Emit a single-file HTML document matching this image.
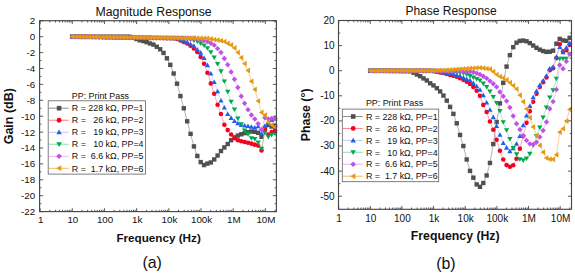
<!DOCTYPE html>
<html><head><meta charset="utf-8"><style>
html,body{margin:0;padding:0;background:#fff;width:575px;height:275px;overflow:hidden}
svg{display:block;font-family:"Liberation Sans", sans-serif;fill:#000}
text{fill:#111}
</style></head><body>
<svg width="575" height="275" viewBox="0 0 575 275">
<path d="M72.28 36.70L75.66 36.70L79.04 36.70L82.42 36.70L85.80 36.70L89.18 36.70L92.56 36.70L95.94 36.70L99.32 36.70L102.70 36.70L106.07 36.70L109.45 36.70L112.83 36.70L116.21 36.70L119.59 36.70L122.97 36.70L126.35 36.70L129.73 36.70L133.11 37.78L136.49 39.03L139.87 40.28L143.25 41.05L146.63 42.16L150.01 43.46L153.39 44.58L156.77 46.77L160.15 49.28L163.53 52.92L166.90 58.31L170.28 64.87L173.66 73.50L177.04 83.69L180.42 96.06L183.80 108.25L187.18 121.30L190.56 133.88L193.94 146.40L197.32 155.96L200.70 162.12L204.08 165.06L207.46 163.57L210.84 162.45L214.22 159.43L217.60 155.53L220.98 151.03L224.36 147.44L227.73 144.01L231.11 140.25L234.49 137.37L237.87 135.51L241.25 134.29L244.63 133.12L248.01 132.17L251.39 131.48L254.77 131.81L258.15 132.81L261.53 136.79L264.91 128.13L268.29 124.95L271.67 126.53L275.05 125.74" fill="none" stroke="#808080" stroke-width="0.6"/>
<g><rect x="70.08" y="34.50" width="4.40" height="4.40" fill="#505050"/><rect x="73.46" y="34.50" width="4.40" height="4.40" fill="#505050"/><rect x="76.84" y="34.50" width="4.40" height="4.40" fill="#505050"/><rect x="80.22" y="34.50" width="4.40" height="4.40" fill="#505050"/><rect x="83.60" y="34.50" width="4.40" height="4.40" fill="#505050"/><rect x="86.98" y="34.50" width="4.40" height="4.40" fill="#505050"/><rect x="90.36" y="34.50" width="4.40" height="4.40" fill="#505050"/><rect x="93.74" y="34.50" width="4.40" height="4.40" fill="#505050"/><rect x="97.12" y="34.50" width="4.40" height="4.40" fill="#505050"/><rect x="100.50" y="34.50" width="4.40" height="4.40" fill="#505050"/><rect x="103.87" y="34.50" width="4.40" height="4.40" fill="#505050"/><rect x="107.25" y="34.50" width="4.40" height="4.40" fill="#505050"/><rect x="110.63" y="34.50" width="4.40" height="4.40" fill="#505050"/><rect x="114.01" y="34.50" width="4.40" height="4.40" fill="#505050"/><rect x="117.39" y="34.50" width="4.40" height="4.40" fill="#505050"/><rect x="120.77" y="34.50" width="4.40" height="4.40" fill="#505050"/><rect x="124.15" y="34.50" width="4.40" height="4.40" fill="#505050"/><rect x="127.53" y="34.50" width="4.40" height="4.40" fill="#505050"/><rect x="130.91" y="35.58" width="4.40" height="4.40" fill="#505050"/><rect x="134.29" y="36.83" width="4.40" height="4.40" fill="#505050"/><rect x="137.67" y="38.08" width="4.40" height="4.40" fill="#505050"/><rect x="141.05" y="38.85" width="4.40" height="4.40" fill="#505050"/><rect x="144.43" y="39.96" width="4.40" height="4.40" fill="#505050"/><rect x="147.81" y="41.26" width="4.40" height="4.40" fill="#505050"/><rect x="151.19" y="42.38" width="4.40" height="4.40" fill="#505050"/><rect x="154.57" y="44.57" width="4.40" height="4.40" fill="#505050"/><rect x="157.95" y="47.08" width="4.40" height="4.40" fill="#505050"/><rect x="161.33" y="50.72" width="4.40" height="4.40" fill="#505050"/><rect x="164.70" y="56.11" width="4.40" height="4.40" fill="#505050"/><rect x="168.08" y="62.67" width="4.40" height="4.40" fill="#505050"/><rect x="171.46" y="71.30" width="4.40" height="4.40" fill="#505050"/><rect x="174.84" y="81.49" width="4.40" height="4.40" fill="#505050"/><rect x="178.22" y="93.86" width="4.40" height="4.40" fill="#505050"/><rect x="181.60" y="106.05" width="4.40" height="4.40" fill="#505050"/><rect x="184.98" y="119.10" width="4.40" height="4.40" fill="#505050"/><rect x="188.36" y="131.68" width="4.40" height="4.40" fill="#505050"/><rect x="191.74" y="144.20" width="4.40" height="4.40" fill="#505050"/><rect x="195.12" y="153.76" width="4.40" height="4.40" fill="#505050"/><rect x="198.50" y="159.92" width="4.40" height="4.40" fill="#505050"/><rect x="201.88" y="162.86" width="4.40" height="4.40" fill="#505050"/><rect x="205.26" y="161.37" width="4.40" height="4.40" fill="#505050"/><rect x="208.64" y="160.25" width="4.40" height="4.40" fill="#505050"/><rect x="212.02" y="157.23" width="4.40" height="4.40" fill="#505050"/><rect x="215.40" y="153.33" width="4.40" height="4.40" fill="#505050"/><rect x="218.78" y="148.83" width="4.40" height="4.40" fill="#505050"/><rect x="222.16" y="145.24" width="4.40" height="4.40" fill="#505050"/><rect x="225.53" y="141.81" width="4.40" height="4.40" fill="#505050"/><rect x="228.91" y="138.05" width="4.40" height="4.40" fill="#505050"/><rect x="232.29" y="135.17" width="4.40" height="4.40" fill="#505050"/><rect x="235.67" y="133.31" width="4.40" height="4.40" fill="#505050"/><rect x="239.05" y="132.09" width="4.40" height="4.40" fill="#505050"/><rect x="242.43" y="130.92" width="4.40" height="4.40" fill="#505050"/><rect x="245.81" y="129.97" width="4.40" height="4.40" fill="#505050"/><rect x="249.19" y="129.28" width="4.40" height="4.40" fill="#505050"/><rect x="252.57" y="129.61" width="4.40" height="4.40" fill="#505050"/><rect x="255.95" y="130.61" width="4.40" height="4.40" fill="#505050"/><rect x="259.33" y="134.59" width="4.40" height="4.40" fill="#505050"/><rect x="262.71" y="125.93" width="4.40" height="4.40" fill="#505050"/><rect x="266.09" y="122.75" width="4.40" height="4.40" fill="#505050"/><rect x="269.47" y="124.33" width="4.40" height="4.40" fill="#505050"/><rect x="272.85" y="123.54" width="4.40" height="4.40" fill="#505050"/></g>
<path d="M72.28 36.70L75.66 36.75L79.04 36.80L82.42 36.86L85.80 36.91L89.18 36.96L92.56 37.01L95.94 37.07L99.32 37.12L102.70 37.17L106.07 37.22L109.45 37.27L112.83 37.33L116.21 37.38L119.59 37.43L122.97 37.48L126.35 37.53L129.73 37.59L133.11 37.64L136.49 37.69L139.87 37.74L143.25 37.80L146.63 37.85L150.01 37.90L153.39 37.95L156.77 38.00L160.15 38.06L163.53 38.11L166.90 38.16L170.28 38.21L173.66 38.27L177.04 39.05L180.42 40.49L183.80 41.93L187.18 43.46L190.56 45.82L193.94 48.47L197.32 52.02L200.70 56.92L204.08 63.79L207.46 72.69L210.84 83.38L214.22 93.77L217.60 104.74L220.98 114.02L224.36 124.68L227.73 130.09L231.11 134.55L234.49 138.22L237.87 140.13L241.25 141.31L244.63 141.97L248.01 142.76L251.39 143.66L254.77 144.63L258.15 145.61L261.53 150.38L264.91 129.64L268.29 134.48L271.67 132.10L275.05 130.19" fill="none" stroke="#ff7080" stroke-width="0.6"/>
<g><circle cx="72.28" cy="36.70" r="2.30" fill="#f5001e"/><circle cx="75.66" cy="36.75" r="2.30" fill="#f5001e"/><circle cx="79.04" cy="36.80" r="2.30" fill="#f5001e"/><circle cx="82.42" cy="36.86" r="2.30" fill="#f5001e"/><circle cx="85.80" cy="36.91" r="2.30" fill="#f5001e"/><circle cx="89.18" cy="36.96" r="2.30" fill="#f5001e"/><circle cx="92.56" cy="37.01" r="2.30" fill="#f5001e"/><circle cx="95.94" cy="37.07" r="2.30" fill="#f5001e"/><circle cx="99.32" cy="37.12" r="2.30" fill="#f5001e"/><circle cx="102.70" cy="37.17" r="2.30" fill="#f5001e"/><circle cx="106.07" cy="37.22" r="2.30" fill="#f5001e"/><circle cx="109.45" cy="37.27" r="2.30" fill="#f5001e"/><circle cx="112.83" cy="37.33" r="2.30" fill="#f5001e"/><circle cx="116.21" cy="37.38" r="2.30" fill="#f5001e"/><circle cx="119.59" cy="37.43" r="2.30" fill="#f5001e"/><circle cx="122.97" cy="37.48" r="2.30" fill="#f5001e"/><circle cx="126.35" cy="37.53" r="2.30" fill="#f5001e"/><circle cx="129.73" cy="37.59" r="2.30" fill="#f5001e"/><circle cx="133.11" cy="37.64" r="2.30" fill="#f5001e"/><circle cx="136.49" cy="37.69" r="2.30" fill="#f5001e"/><circle cx="139.87" cy="37.74" r="2.30" fill="#f5001e"/><circle cx="143.25" cy="37.80" r="2.30" fill="#f5001e"/><circle cx="146.63" cy="37.85" r="2.30" fill="#f5001e"/><circle cx="150.01" cy="37.90" r="2.30" fill="#f5001e"/><circle cx="153.39" cy="37.95" r="2.30" fill="#f5001e"/><circle cx="156.77" cy="38.00" r="2.30" fill="#f5001e"/><circle cx="160.15" cy="38.06" r="2.30" fill="#f5001e"/><circle cx="163.53" cy="38.11" r="2.30" fill="#f5001e"/><circle cx="166.90" cy="38.16" r="2.30" fill="#f5001e"/><circle cx="170.28" cy="38.21" r="2.30" fill="#f5001e"/><circle cx="173.66" cy="38.27" r="2.30" fill="#f5001e"/><circle cx="177.04" cy="39.05" r="2.30" fill="#f5001e"/><circle cx="180.42" cy="40.49" r="2.30" fill="#f5001e"/><circle cx="183.80" cy="41.93" r="2.30" fill="#f5001e"/><circle cx="187.18" cy="43.46" r="2.30" fill="#f5001e"/><circle cx="190.56" cy="45.82" r="2.30" fill="#f5001e"/><circle cx="193.94" cy="48.47" r="2.30" fill="#f5001e"/><circle cx="197.32" cy="52.02" r="2.30" fill="#f5001e"/><circle cx="200.70" cy="56.92" r="2.30" fill="#f5001e"/><circle cx="204.08" cy="63.79" r="2.30" fill="#f5001e"/><circle cx="207.46" cy="72.69" r="2.30" fill="#f5001e"/><circle cx="210.84" cy="83.38" r="2.30" fill="#f5001e"/><circle cx="214.22" cy="93.77" r="2.30" fill="#f5001e"/><circle cx="217.60" cy="104.74" r="2.30" fill="#f5001e"/><circle cx="220.98" cy="114.02" r="2.30" fill="#f5001e"/><circle cx="224.36" cy="124.68" r="2.30" fill="#f5001e"/><circle cx="227.73" cy="130.09" r="2.30" fill="#f5001e"/><circle cx="231.11" cy="134.55" r="2.30" fill="#f5001e"/><circle cx="234.49" cy="138.22" r="2.30" fill="#f5001e"/><circle cx="237.87" cy="140.13" r="2.30" fill="#f5001e"/><circle cx="241.25" cy="141.31" r="2.30" fill="#f5001e"/><circle cx="244.63" cy="141.97" r="2.30" fill="#f5001e"/><circle cx="248.01" cy="142.76" r="2.30" fill="#f5001e"/><circle cx="251.39" cy="143.66" r="2.30" fill="#f5001e"/><circle cx="254.77" cy="144.63" r="2.30" fill="#f5001e"/><circle cx="258.15" cy="145.61" r="2.30" fill="#f5001e"/><circle cx="261.53" cy="150.38" r="2.30" fill="#f5001e"/><circle cx="264.91" cy="129.64" r="2.30" fill="#f5001e"/><circle cx="268.29" cy="134.48" r="2.30" fill="#f5001e"/><circle cx="271.67" cy="132.10" r="2.30" fill="#f5001e"/><circle cx="275.05" cy="130.19" r="2.30" fill="#f5001e"/></g>
<path d="M72.28 36.70L75.66 36.75L79.04 36.80L82.42 36.85L85.80 36.90L89.18 36.95L92.56 37.00L95.94 37.05L99.32 37.10L102.70 37.16L106.07 37.21L109.45 37.26L112.83 37.31L116.21 37.36L119.59 37.41L122.97 37.46L126.35 37.51L129.73 37.56L133.11 37.61L136.49 37.66L139.87 37.71L143.25 37.76L146.63 37.81L150.01 37.86L153.39 37.91L156.77 37.96L160.15 38.02L163.53 38.07L166.90 38.12L170.28 38.17L173.66 38.22L177.04 38.27L180.42 39.25L183.80 40.92L187.18 42.59L190.56 44.26L193.94 45.94L197.32 49.59L200.70 52.72L204.08 58.04L207.46 65.22L210.84 73.62L214.22 82.12L217.60 91.32L220.98 100.60L224.36 107.66L227.73 113.98L231.11 117.96L234.49 121.11L237.87 123.42L241.25 125.02L244.63 125.53L248.01 126.14L251.39 126.86L254.77 127.54L258.15 126.30L261.53 133.53L264.91 125.74L268.29 122.56L271.67 120.17L275.05 118.59" fill="none" stroke="#a8c4ff" stroke-width="0.6"/>
<g><path d="M72.28 34.10L74.88 38.65L69.68 38.65Z" fill="#1f5ff0"/><path d="M75.66 34.15L78.26 38.70L73.06 38.70Z" fill="#1f5ff0"/><path d="M79.04 34.20L81.64 38.75L76.44 38.75Z" fill="#1f5ff0"/><path d="M82.42 34.25L85.02 38.80L79.82 38.80Z" fill="#1f5ff0"/><path d="M85.80 34.30L88.40 38.85L83.20 38.85Z" fill="#1f5ff0"/><path d="M89.18 34.35L91.78 38.90L86.58 38.90Z" fill="#1f5ff0"/><path d="M92.56 34.40L95.16 38.95L89.96 38.95Z" fill="#1f5ff0"/><path d="M95.94 34.45L98.54 39.00L93.34 39.00Z" fill="#1f5ff0"/><path d="M99.32 34.50L101.92 39.05L96.72 39.05Z" fill="#1f5ff0"/><path d="M102.70 34.56L105.30 39.11L100.10 39.11Z" fill="#1f5ff0"/><path d="M106.07 34.61L108.67 39.16L103.47 39.16Z" fill="#1f5ff0"/><path d="M109.45 34.66L112.05 39.21L106.85 39.21Z" fill="#1f5ff0"/><path d="M112.83 34.71L115.43 39.26L110.23 39.26Z" fill="#1f5ff0"/><path d="M116.21 34.76L118.81 39.31L113.61 39.31Z" fill="#1f5ff0"/><path d="M119.59 34.81L122.19 39.36L116.99 39.36Z" fill="#1f5ff0"/><path d="M122.97 34.86L125.57 39.41L120.37 39.41Z" fill="#1f5ff0"/><path d="M126.35 34.91L128.95 39.46L123.75 39.46Z" fill="#1f5ff0"/><path d="M129.73 34.96L132.33 39.51L127.13 39.51Z" fill="#1f5ff0"/><path d="M133.11 35.01L135.71 39.56L130.51 39.56Z" fill="#1f5ff0"/><path d="M136.49 35.06L139.09 39.61L133.89 39.61Z" fill="#1f5ff0"/><path d="M139.87 35.11L142.47 39.66L137.27 39.66Z" fill="#1f5ff0"/><path d="M143.25 35.16L145.85 39.71L140.65 39.71Z" fill="#1f5ff0"/><path d="M146.63 35.21L149.23 39.76L144.03 39.76Z" fill="#1f5ff0"/><path d="M150.01 35.26L152.61 39.81L147.41 39.81Z" fill="#1f5ff0"/><path d="M153.39 35.31L155.99 39.86L150.79 39.86Z" fill="#1f5ff0"/><path d="M156.77 35.36L159.37 39.91L154.17 39.91Z" fill="#1f5ff0"/><path d="M160.15 35.42L162.75 39.97L157.55 39.97Z" fill="#1f5ff0"/><path d="M163.53 35.47L166.13 40.02L160.93 40.02Z" fill="#1f5ff0"/><path d="M166.90 35.52L169.50 40.07L164.30 40.07Z" fill="#1f5ff0"/><path d="M170.28 35.57L172.88 40.12L167.68 40.12Z" fill="#1f5ff0"/><path d="M173.66 35.62L176.26 40.17L171.06 40.17Z" fill="#1f5ff0"/><path d="M177.04 35.67L179.64 40.22L174.44 40.22Z" fill="#1f5ff0"/><path d="M180.42 36.65L183.02 41.20L177.82 41.20Z" fill="#1f5ff0"/><path d="M183.80 38.32L186.40 42.87L181.20 42.87Z" fill="#1f5ff0"/><path d="M187.18 39.99L189.78 44.54L184.58 44.54Z" fill="#1f5ff0"/><path d="M190.56 41.66L193.16 46.21L187.96 46.21Z" fill="#1f5ff0"/><path d="M193.94 43.34L196.54 47.89L191.34 47.89Z" fill="#1f5ff0"/><path d="M197.32 46.99L199.92 51.54L194.72 51.54Z" fill="#1f5ff0"/><path d="M200.70 50.12L203.30 54.67L198.10 54.67Z" fill="#1f5ff0"/><path d="M204.08 55.44L206.68 59.99L201.48 59.99Z" fill="#1f5ff0"/><path d="M207.46 62.62L210.06 67.17L204.86 67.17Z" fill="#1f5ff0"/><path d="M210.84 71.02L213.44 75.57L208.24 75.57Z" fill="#1f5ff0"/><path d="M214.22 79.52L216.82 84.07L211.62 84.07Z" fill="#1f5ff0"/><path d="M217.60 88.72L220.20 93.27L215.00 93.27Z" fill="#1f5ff0"/><path d="M220.98 98.00L223.58 102.55L218.38 102.55Z" fill="#1f5ff0"/><path d="M224.36 105.06L226.96 109.61L221.76 109.61Z" fill="#1f5ff0"/><path d="M227.73 111.38L230.33 115.93L225.13 115.93Z" fill="#1f5ff0"/><path d="M231.11 115.36L233.71 119.91L228.51 119.91Z" fill="#1f5ff0"/><path d="M234.49 118.51L237.09 123.06L231.89 123.06Z" fill="#1f5ff0"/><path d="M237.87 120.82L240.47 125.37L235.27 125.37Z" fill="#1f5ff0"/><path d="M241.25 122.42L243.85 126.97L238.65 126.97Z" fill="#1f5ff0"/><path d="M244.63 122.93L247.23 127.48L242.03 127.48Z" fill="#1f5ff0"/><path d="M248.01 123.54L250.61 128.09L245.41 128.09Z" fill="#1f5ff0"/><path d="M251.39 124.26L253.99 128.81L248.79 128.81Z" fill="#1f5ff0"/><path d="M254.77 124.94L257.37 129.49L252.17 129.49Z" fill="#1f5ff0"/><path d="M258.15 123.70L260.75 128.25L255.55 128.25Z" fill="#1f5ff0"/><path d="M261.53 130.93L264.13 135.48L258.93 135.48Z" fill="#1f5ff0"/><path d="M264.91 123.14L267.51 127.69L262.31 127.69Z" fill="#1f5ff0"/><path d="M268.29 119.96L270.89 124.51L265.69 124.51Z" fill="#1f5ff0"/><path d="M271.67 117.57L274.27 122.12L269.07 122.12Z" fill="#1f5ff0"/><path d="M275.05 115.99L277.65 120.54L272.45 120.54Z" fill="#1f5ff0"/></g>
<path d="M72.28 36.70L75.66 36.75L79.04 36.80L82.42 36.84L85.80 36.89L89.18 36.94L92.56 36.99L95.94 37.03L99.32 37.08L102.70 37.13L106.07 37.18L109.45 37.22L112.83 37.27L116.21 37.32L119.59 37.37L122.97 37.42L126.35 37.46L129.73 37.51L133.11 37.56L136.49 37.61L139.87 37.65L143.25 37.70L146.63 37.75L150.01 37.80L153.39 37.84L156.77 37.89L160.15 37.94L163.53 37.99L166.90 38.04L170.28 38.08L173.66 38.13L177.04 38.18L180.42 38.23L183.80 38.27L187.18 38.85L190.56 39.69L193.94 40.52L197.32 41.36L200.70 43.33L204.08 45.51L207.46 48.23L210.84 52.08L214.22 57.43L217.60 63.87L220.98 71.29L224.36 81.46L227.73 91.77L231.11 101.73L234.49 109.41L237.87 118.45L241.25 124.14L244.63 130.57L248.01 134.24L251.39 138.09L254.77 138.86L258.15 142.43L261.53 148.71L264.91 132.82L268.29 136.79L271.67 134.80L275.05 133.69" fill="none" stroke="#80d8a8" stroke-width="0.6"/>
<g><path d="M72.28 39.30L74.98 34.75L69.58 34.75Z" fill="#00a850"/><path d="M75.66 39.35L78.36 34.80L72.96 34.80Z" fill="#00a850"/><path d="M79.04 39.40L81.74 34.85L76.34 34.85Z" fill="#00a850"/><path d="M82.42 39.44L85.12 34.89L79.72 34.89Z" fill="#00a850"/><path d="M85.80 39.49L88.50 34.94L83.10 34.94Z" fill="#00a850"/><path d="M89.18 39.54L91.88 34.99L86.48 34.99Z" fill="#00a850"/><path d="M92.56 39.59L95.26 35.04L89.86 35.04Z" fill="#00a850"/><path d="M95.94 39.63L98.64 35.08L93.24 35.08Z" fill="#00a850"/><path d="M99.32 39.68L102.02 35.13L96.62 35.13Z" fill="#00a850"/><path d="M102.70 39.73L105.40 35.18L100.00 35.18Z" fill="#00a850"/><path d="M106.07 39.78L108.77 35.23L103.37 35.23Z" fill="#00a850"/><path d="M109.45 39.82L112.15 35.27L106.75 35.27Z" fill="#00a850"/><path d="M112.83 39.87L115.53 35.32L110.13 35.32Z" fill="#00a850"/><path d="M116.21 39.92L118.91 35.37L113.51 35.37Z" fill="#00a850"/><path d="M119.59 39.97L122.29 35.42L116.89 35.42Z" fill="#00a850"/><path d="M122.97 40.02L125.67 35.47L120.27 35.47Z" fill="#00a850"/><path d="M126.35 40.06L129.05 35.51L123.65 35.51Z" fill="#00a850"/><path d="M129.73 40.11L132.43 35.56L127.03 35.56Z" fill="#00a850"/><path d="M133.11 40.16L135.81 35.61L130.41 35.61Z" fill="#00a850"/><path d="M136.49 40.21L139.19 35.66L133.79 35.66Z" fill="#00a850"/><path d="M139.87 40.25L142.57 35.70L137.17 35.70Z" fill="#00a850"/><path d="M143.25 40.30L145.95 35.75L140.55 35.75Z" fill="#00a850"/><path d="M146.63 40.35L149.33 35.80L143.93 35.80Z" fill="#00a850"/><path d="M150.01 40.40L152.71 35.85L147.31 35.85Z" fill="#00a850"/><path d="M153.39 40.44L156.09 35.89L150.69 35.89Z" fill="#00a850"/><path d="M156.77 40.49L159.47 35.94L154.07 35.94Z" fill="#00a850"/><path d="M160.15 40.54L162.85 35.99L157.45 35.99Z" fill="#00a850"/><path d="M163.53 40.59L166.23 36.04L160.83 36.04Z" fill="#00a850"/><path d="M166.90 40.64L169.60 36.09L164.20 36.09Z" fill="#00a850"/><path d="M170.28 40.68L172.98 36.13L167.58 36.13Z" fill="#00a850"/><path d="M173.66 40.73L176.36 36.18L170.96 36.18Z" fill="#00a850"/><path d="M177.04 40.78L179.74 36.23L174.34 36.23Z" fill="#00a850"/><path d="M180.42 40.83L183.12 36.28L177.72 36.28Z" fill="#00a850"/><path d="M183.80 40.87L186.50 36.32L181.10 36.32Z" fill="#00a850"/><path d="M187.18 41.45L189.88 36.90L184.48 36.90Z" fill="#00a850"/><path d="M190.56 42.29L193.26 37.74L187.86 37.74Z" fill="#00a850"/><path d="M193.94 43.12L196.64 38.57L191.24 38.57Z" fill="#00a850"/><path d="M197.32 43.96L200.02 39.41L194.62 39.41Z" fill="#00a850"/><path d="M200.70 45.93L203.40 41.38L198.00 41.38Z" fill="#00a850"/><path d="M204.08 48.11L206.78 43.56L201.38 43.56Z" fill="#00a850"/><path d="M207.46 50.83L210.16 46.28L204.76 46.28Z" fill="#00a850"/><path d="M210.84 54.68L213.54 50.13L208.14 50.13Z" fill="#00a850"/><path d="M214.22 60.03L216.92 55.48L211.52 55.48Z" fill="#00a850"/><path d="M217.60 66.47L220.30 61.92L214.90 61.92Z" fill="#00a850"/><path d="M220.98 73.89L223.68 69.34L218.28 69.34Z" fill="#00a850"/><path d="M224.36 84.06L227.06 79.51L221.66 79.51Z" fill="#00a850"/><path d="M227.73 94.37L230.43 89.82L225.03 89.82Z" fill="#00a850"/><path d="M231.11 104.33L233.81 99.78L228.41 99.78Z" fill="#00a850"/><path d="M234.49 112.01L237.19 107.46L231.79 107.46Z" fill="#00a850"/><path d="M237.87 121.05L240.57 116.50L235.17 116.50Z" fill="#00a850"/><path d="M241.25 126.74L243.95 122.19L238.55 122.19Z" fill="#00a850"/><path d="M244.63 133.17L247.33 128.62L241.93 128.62Z" fill="#00a850"/><path d="M248.01 136.84L250.71 132.29L245.31 132.29Z" fill="#00a850"/><path d="M251.39 140.69L254.09 136.14L248.69 136.14Z" fill="#00a850"/><path d="M254.77 141.46L257.47 136.91L252.07 136.91Z" fill="#00a850"/><path d="M258.15 145.03L260.85 140.48L255.45 140.48Z" fill="#00a850"/><path d="M261.53 151.31L264.23 146.76L258.83 146.76Z" fill="#00a850"/><path d="M264.91 135.42L267.61 130.87L262.21 130.87Z" fill="#00a850"/><path d="M268.29 139.39L270.99 134.84L265.59 134.84Z" fill="#00a850"/><path d="M271.67 137.40L274.37 132.85L268.97 132.85Z" fill="#00a850"/><path d="M275.05 136.29L277.75 131.74L272.35 131.74Z" fill="#00a850"/></g>
<path d="M72.28 36.70L75.66 36.74L79.04 36.79L82.42 36.83L85.80 36.88L89.18 36.92L92.56 36.96L95.94 37.01L99.32 37.05L102.70 37.10L106.07 37.14L109.45 37.18L112.83 37.23L116.21 37.27L119.59 37.32L122.97 37.36L126.35 37.40L129.73 37.45L133.11 37.49L136.49 37.53L139.87 37.58L143.25 37.62L146.63 37.67L150.01 37.71L153.39 37.75L156.77 37.80L160.15 37.84L163.53 37.89L166.90 37.93L170.28 37.97L173.66 38.02L177.04 38.06L180.42 38.11L183.80 38.15L187.18 38.19L190.56 38.24L193.94 38.28L197.32 38.97L200.70 39.81L204.08 40.64L207.46 41.48L210.84 43.23L214.22 45.16L217.60 48.62L220.98 52.42L224.36 58.45L227.73 64.69L231.11 72.00L234.49 79.24L237.87 87.56L241.25 96.21L244.63 103.34L248.01 109.66L251.39 114.95L254.77 119.01L258.15 123.67L261.53 129.63L264.91 117.79L268.29 119.06L271.67 118.43L275.05 118.59" fill="none" stroke="#e4a8f8" stroke-width="0.6"/>
<g><path d="M72.28 34.00L74.98 36.70L72.28 39.40L69.58 36.70Z" fill="#c050e8"/><path d="M75.66 34.04L78.36 36.74L75.66 39.44L72.96 36.74Z" fill="#c050e8"/><path d="M79.04 34.09L81.74 36.79L79.04 39.49L76.34 36.79Z" fill="#c050e8"/><path d="M82.42 34.13L85.12 36.83L82.42 39.53L79.72 36.83Z" fill="#c050e8"/><path d="M85.80 34.18L88.50 36.88L85.80 39.58L83.10 36.88Z" fill="#c050e8"/><path d="M89.18 34.22L91.88 36.92L89.18 39.62L86.48 36.92Z" fill="#c050e8"/><path d="M92.56 34.26L95.26 36.96L92.56 39.66L89.86 36.96Z" fill="#c050e8"/><path d="M95.94 34.31L98.64 37.01L95.94 39.71L93.24 37.01Z" fill="#c050e8"/><path d="M99.32 34.35L102.02 37.05L99.32 39.75L96.62 37.05Z" fill="#c050e8"/><path d="M102.70 34.40L105.40 37.10L102.70 39.80L100.00 37.10Z" fill="#c050e8"/><path d="M106.07 34.44L108.77 37.14L106.07 39.84L103.37 37.14Z" fill="#c050e8"/><path d="M109.45 34.48L112.15 37.18L109.45 39.88L106.75 37.18Z" fill="#c050e8"/><path d="M112.83 34.53L115.53 37.23L112.83 39.93L110.13 37.23Z" fill="#c050e8"/><path d="M116.21 34.57L118.91 37.27L116.21 39.97L113.51 37.27Z" fill="#c050e8"/><path d="M119.59 34.62L122.29 37.32L119.59 40.02L116.89 37.32Z" fill="#c050e8"/><path d="M122.97 34.66L125.67 37.36L122.97 40.06L120.27 37.36Z" fill="#c050e8"/><path d="M126.35 34.70L129.05 37.40L126.35 40.10L123.65 37.40Z" fill="#c050e8"/><path d="M129.73 34.75L132.43 37.45L129.73 40.15L127.03 37.45Z" fill="#c050e8"/><path d="M133.11 34.79L135.81 37.49L133.11 40.19L130.41 37.49Z" fill="#c050e8"/><path d="M136.49 34.83L139.19 37.53L136.49 40.23L133.79 37.53Z" fill="#c050e8"/><path d="M139.87 34.88L142.57 37.58L139.87 40.28L137.17 37.58Z" fill="#c050e8"/><path d="M143.25 34.92L145.95 37.62L143.25 40.32L140.55 37.62Z" fill="#c050e8"/><path d="M146.63 34.97L149.33 37.67L146.63 40.37L143.93 37.67Z" fill="#c050e8"/><path d="M150.01 35.01L152.71 37.71L150.01 40.41L147.31 37.71Z" fill="#c050e8"/><path d="M153.39 35.05L156.09 37.75L153.39 40.45L150.69 37.75Z" fill="#c050e8"/><path d="M156.77 35.10L159.47 37.80L156.77 40.50L154.07 37.80Z" fill="#c050e8"/><path d="M160.15 35.14L162.85 37.84L160.15 40.54L157.45 37.84Z" fill="#c050e8"/><path d="M163.53 35.19L166.23 37.89L163.53 40.59L160.83 37.89Z" fill="#c050e8"/><path d="M166.90 35.23L169.60 37.93L166.90 40.63L164.20 37.93Z" fill="#c050e8"/><path d="M170.28 35.27L172.98 37.97L170.28 40.67L167.58 37.97Z" fill="#c050e8"/><path d="M173.66 35.32L176.36 38.02L173.66 40.72L170.96 38.02Z" fill="#c050e8"/><path d="M177.04 35.36L179.74 38.06L177.04 40.76L174.34 38.06Z" fill="#c050e8"/><path d="M180.42 35.41L183.12 38.11L180.42 40.81L177.72 38.11Z" fill="#c050e8"/><path d="M183.80 35.45L186.50 38.15L183.80 40.85L181.10 38.15Z" fill="#c050e8"/><path d="M187.18 35.49L189.88 38.19L187.18 40.89L184.48 38.19Z" fill="#c050e8"/><path d="M190.56 35.54L193.26 38.24L190.56 40.94L187.86 38.24Z" fill="#c050e8"/><path d="M193.94 35.58L196.64 38.28L193.94 40.98L191.24 38.28Z" fill="#c050e8"/><path d="M197.32 36.27L200.02 38.97L197.32 41.67L194.62 38.97Z" fill="#c050e8"/><path d="M200.70 37.11L203.40 39.81L200.70 42.51L198.00 39.81Z" fill="#c050e8"/><path d="M204.08 37.94L206.78 40.64L204.08 43.34L201.38 40.64Z" fill="#c050e8"/><path d="M207.46 38.78L210.16 41.48L207.46 44.18L204.76 41.48Z" fill="#c050e8"/><path d="M210.84 40.53L213.54 43.23L210.84 45.93L208.14 43.23Z" fill="#c050e8"/><path d="M214.22 42.46L216.92 45.16L214.22 47.86L211.52 45.16Z" fill="#c050e8"/><path d="M217.60 45.92L220.30 48.62L217.60 51.32L214.90 48.62Z" fill="#c050e8"/><path d="M220.98 49.72L223.68 52.42L220.98 55.12L218.28 52.42Z" fill="#c050e8"/><path d="M224.36 55.75L227.06 58.45L224.36 61.15L221.66 58.45Z" fill="#c050e8"/><path d="M227.73 61.99L230.43 64.69L227.73 67.39L225.03 64.69Z" fill="#c050e8"/><path d="M231.11 69.30L233.81 72.00L231.11 74.70L228.41 72.00Z" fill="#c050e8"/><path d="M234.49 76.54L237.19 79.24L234.49 81.94L231.79 79.24Z" fill="#c050e8"/><path d="M237.87 84.86L240.57 87.56L237.87 90.26L235.17 87.56Z" fill="#c050e8"/><path d="M241.25 93.51L243.95 96.21L241.25 98.91L238.55 96.21Z" fill="#c050e8"/><path d="M244.63 100.64L247.33 103.34L244.63 106.04L241.93 103.34Z" fill="#c050e8"/><path d="M248.01 106.96L250.71 109.66L248.01 112.36L245.31 109.66Z" fill="#c050e8"/><path d="M251.39 112.25L254.09 114.95L251.39 117.65L248.69 114.95Z" fill="#c050e8"/><path d="M254.77 116.31L257.47 119.01L254.77 121.71L252.07 119.01Z" fill="#c050e8"/><path d="M258.15 120.97L260.85 123.67L258.15 126.37L255.45 123.67Z" fill="#c050e8"/><path d="M261.53 126.93L264.23 129.63L261.53 132.33L258.83 129.63Z" fill="#c050e8"/><path d="M264.91 115.09L267.61 117.79L264.91 120.49L262.21 117.79Z" fill="#c050e8"/><path d="M268.29 116.36L270.99 119.06L268.29 121.76L265.59 119.06Z" fill="#c050e8"/><path d="M271.67 115.73L274.37 118.43L271.67 121.13L268.97 118.43Z" fill="#c050e8"/><path d="M275.05 115.89L277.75 118.59L275.05 121.29L272.35 118.59Z" fill="#c050e8"/></g>
<path d="M72.28 36.70L75.66 36.74L79.04 36.78L82.42 36.82L85.80 36.86L89.18 36.90L92.56 36.94L95.94 36.98L99.32 37.02L102.70 37.06L106.07 37.10L109.45 37.14L112.83 37.18L116.21 37.22L119.59 37.26L122.97 37.30L126.35 37.34L129.73 37.38L133.11 37.42L136.49 37.46L139.87 37.50L143.25 37.53L146.63 37.57L150.01 37.61L153.39 37.65L156.77 37.69L160.15 37.73L163.53 37.77L166.90 37.81L170.28 37.85L173.66 37.89L177.04 37.93L180.42 37.97L183.80 38.01L187.18 38.05L190.56 38.09L193.94 38.13L197.32 38.17L200.70 38.21L204.08 38.25L207.46 38.29L210.84 38.90L214.22 39.51L217.60 40.11L220.98 40.72L224.36 41.50L227.73 43.29L231.11 44.93L234.49 47.92L237.87 52.41L241.25 57.66L244.63 63.65L248.01 70.42L251.39 81.37L254.77 89.48L258.15 101.01L261.53 112.46L264.91 115.09L268.29 122.32L271.67 124.95L275.05 126.93" fill="none" stroke="#eeb050" stroke-width="0.6"/>
<g><path d="M69.58 36.70L74.31 33.85L74.31 39.55Z" fill="#e69a12"/><path d="M72.96 36.74L77.68 33.89L77.68 39.59Z" fill="#e69a12"/><path d="M76.34 36.78L81.06 33.93L81.06 39.63Z" fill="#e69a12"/><path d="M79.72 36.82L84.44 33.97L84.44 39.67Z" fill="#e69a12"/><path d="M83.10 36.86L87.82 34.01L87.82 39.71Z" fill="#e69a12"/><path d="M86.48 36.90L91.20 34.05L91.20 39.75Z" fill="#e69a12"/><path d="M89.86 36.94L94.58 34.09L94.58 39.79Z" fill="#e69a12"/><path d="M93.24 36.98L97.96 34.13L97.96 39.83Z" fill="#e69a12"/><path d="M96.62 37.02L101.34 34.17L101.34 39.87Z" fill="#e69a12"/><path d="M100.00 37.06L104.72 34.21L104.72 39.91Z" fill="#e69a12"/><path d="M103.37 37.10L108.10 34.25L108.10 39.95Z" fill="#e69a12"/><path d="M106.75 37.14L111.48 34.29L111.48 39.99Z" fill="#e69a12"/><path d="M110.13 37.18L114.86 34.33L114.86 40.03Z" fill="#e69a12"/><path d="M113.51 37.22L118.24 34.37L118.24 40.07Z" fill="#e69a12"/><path d="M116.89 37.26L121.62 34.41L121.62 40.11Z" fill="#e69a12"/><path d="M120.27 37.30L125.00 34.45L125.00 40.15Z" fill="#e69a12"/><path d="M123.65 37.34L128.38 34.49L128.38 40.19Z" fill="#e69a12"/><path d="M127.03 37.38L131.76 34.53L131.76 40.23Z" fill="#e69a12"/><path d="M130.41 37.42L135.14 34.57L135.14 40.27Z" fill="#e69a12"/><path d="M133.79 37.46L138.51 34.61L138.51 40.31Z" fill="#e69a12"/><path d="M137.17 37.50L141.89 34.65L141.89 40.35Z" fill="#e69a12"/><path d="M140.55 37.53L145.27 34.68L145.27 40.38Z" fill="#e69a12"/><path d="M143.93 37.57L148.65 34.72L148.65 40.42Z" fill="#e69a12"/><path d="M147.31 37.61L152.03 34.76L152.03 40.46Z" fill="#e69a12"/><path d="M150.69 37.65L155.41 34.80L155.41 40.50Z" fill="#e69a12"/><path d="M154.07 37.69L158.79 34.84L158.79 40.54Z" fill="#e69a12"/><path d="M157.45 37.73L162.17 34.88L162.17 40.58Z" fill="#e69a12"/><path d="M160.83 37.77L165.55 34.92L165.55 40.62Z" fill="#e69a12"/><path d="M164.20 37.81L168.93 34.96L168.93 40.66Z" fill="#e69a12"/><path d="M167.58 37.85L172.31 35.00L172.31 40.70Z" fill="#e69a12"/><path d="M170.96 37.89L175.69 35.04L175.69 40.74Z" fill="#e69a12"/><path d="M174.34 37.93L179.07 35.08L179.07 40.78Z" fill="#e69a12"/><path d="M177.72 37.97L182.45 35.12L182.45 40.82Z" fill="#e69a12"/><path d="M181.10 38.01L185.83 35.16L185.83 40.86Z" fill="#e69a12"/><path d="M184.48 38.05L189.21 35.20L189.21 40.90Z" fill="#e69a12"/><path d="M187.86 38.09L192.59 35.24L192.59 40.94Z" fill="#e69a12"/><path d="M191.24 38.13L195.97 35.28L195.97 40.98Z" fill="#e69a12"/><path d="M194.62 38.17L199.34 35.32L199.34 41.02Z" fill="#e69a12"/><path d="M198.00 38.21L202.72 35.36L202.72 41.06Z" fill="#e69a12"/><path d="M201.38 38.25L206.10 35.40L206.10 41.10Z" fill="#e69a12"/><path d="M204.76 38.29L209.48 35.44L209.48 41.14Z" fill="#e69a12"/><path d="M208.14 38.90L212.86 36.05L212.86 41.75Z" fill="#e69a12"/><path d="M211.52 39.51L216.24 36.66L216.24 42.36Z" fill="#e69a12"/><path d="M214.90 40.11L219.62 37.26L219.62 42.96Z" fill="#e69a12"/><path d="M218.28 40.72L223.00 37.87L223.00 43.57Z" fill="#e69a12"/><path d="M221.66 41.50L226.38 38.65L226.38 44.35Z" fill="#e69a12"/><path d="M225.03 43.29L229.76 40.44L229.76 46.14Z" fill="#e69a12"/><path d="M228.41 44.93L233.14 42.08L233.14 47.78Z" fill="#e69a12"/><path d="M231.79 47.92L236.52 45.07L236.52 50.77Z" fill="#e69a12"/><path d="M235.17 52.41L239.90 49.56L239.90 55.26Z" fill="#e69a12"/><path d="M238.55 57.66L243.28 54.81L243.28 60.51Z" fill="#e69a12"/><path d="M241.93 63.65L246.66 60.80L246.66 66.50Z" fill="#e69a12"/><path d="M245.31 70.42L250.04 67.57L250.04 73.27Z" fill="#e69a12"/><path d="M248.69 81.37L253.42 78.52L253.42 84.22Z" fill="#e69a12"/><path d="M252.07 89.48L256.80 86.63L256.80 92.33Z" fill="#e69a12"/><path d="M255.45 101.01L260.17 98.16L260.17 103.86Z" fill="#e69a12"/><path d="M258.83 112.46L263.55 109.61L263.55 115.31Z" fill="#e69a12"/><path d="M262.21 115.09L266.93 112.24L266.93 117.94Z" fill="#e69a12"/><path d="M265.59 122.32L270.31 119.47L270.31 125.17Z" fill="#e69a12"/><path d="M268.97 124.95L273.69 122.10L273.69 127.80Z" fill="#e69a12"/><path d="M272.35 126.93L277.07 124.08L277.07 129.78Z" fill="#e69a12"/></g>
<rect x="39.6" y="20.7" width="236.79999999999998" height="190.9" fill="none" stroke="#484848" stroke-width="1.15"/>
<path d="M40.10 211.6V208.20M40.10 20.7V24.10M49.79 211.6V209.80M49.79 20.7V22.50M55.45 211.6V209.80M55.45 20.7V22.50M59.47 211.6V209.80M59.47 20.7V22.50M62.59 211.6V209.80M62.59 20.7V22.50M65.14 211.6V209.80M65.14 20.7V22.50M67.30 211.6V209.80M67.30 20.7V22.50M69.16 211.6V209.80M69.16 20.7V22.50M70.81 211.6V209.80M70.81 20.7V22.50M72.28 211.6V208.20M72.28 20.7V24.10M81.97 211.6V209.80M81.97 20.7V22.50M87.63 211.6V209.80M87.63 20.7V22.50M91.65 211.6V209.80M91.65 20.7V22.50M94.77 211.6V209.80M94.77 20.7V22.50M97.32 211.6V209.80M97.32 20.7V22.50M99.48 211.6V209.80M99.48 20.7V22.50M101.34 211.6V209.80M101.34 20.7V22.50M102.99 211.6V209.80M102.99 20.7V22.50M104.46 211.6V208.20M104.46 20.7V24.10M114.15 211.6V209.80M114.15 20.7V22.50M119.81 211.6V209.80M119.81 20.7V22.50M123.83 211.6V209.80M123.83 20.7V22.50M126.95 211.6V209.80M126.95 20.7V22.50M129.50 211.6V209.80M129.50 20.7V22.50M131.66 211.6V209.80M131.66 20.7V22.50M133.52 211.6V209.80M133.52 20.7V22.50M135.17 211.6V209.80M135.17 20.7V22.50M136.64 211.6V208.20M136.64 20.7V24.10M146.33 211.6V209.80M146.33 20.7V22.50M151.99 211.6V209.80M151.99 20.7V22.50M156.01 211.6V209.80M156.01 20.7V22.50M159.13 211.6V209.80M159.13 20.7V22.50M161.68 211.6V209.80M161.68 20.7V22.50M163.84 211.6V209.80M163.84 20.7V22.50M165.70 211.6V209.80M165.70 20.7V22.50M167.35 211.6V209.80M167.35 20.7V22.50M168.82 211.6V208.20M168.82 20.7V24.10M178.51 211.6V209.80M178.51 20.7V22.50M184.17 211.6V209.80M184.17 20.7V22.50M188.19 211.6V209.80M188.19 20.7V22.50M191.31 211.6V209.80M191.31 20.7V22.50M193.86 211.6V209.80M193.86 20.7V22.50M196.02 211.6V209.80M196.02 20.7V22.50M197.88 211.6V209.80M197.88 20.7V22.50M199.53 211.6V209.80M199.53 20.7V22.50M201.00 211.6V208.20M201.00 20.7V24.10M210.69 211.6V209.80M210.69 20.7V22.50M216.35 211.6V209.80M216.35 20.7V22.50M220.37 211.6V209.80M220.37 20.7V22.50M223.49 211.6V209.80M223.49 20.7V22.50M226.04 211.6V209.80M226.04 20.7V22.50M228.20 211.6V209.80M228.20 20.7V22.50M230.06 211.6V209.80M230.06 20.7V22.50M231.71 211.6V209.80M231.71 20.7V22.50M233.18 211.6V208.20M233.18 20.7V24.10M242.87 211.6V209.80M242.87 20.7V22.50M248.53 211.6V209.80M248.53 20.7V22.50M252.55 211.6V209.80M252.55 20.7V22.50M255.67 211.6V209.80M255.67 20.7V22.50M258.22 211.6V209.80M258.22 20.7V22.50M260.38 211.6V209.80M260.38 20.7V22.50M262.24 211.6V209.80M262.24 20.7V22.50M263.89 211.6V209.80M263.89 20.7V22.50M265.36 211.6V208.20M265.36 20.7V24.10M275.05 211.6V209.80M275.05 20.7V22.50M39.6 20.80H43.20M276.4 20.80H272.80M39.6 36.70H43.20M276.4 36.70H272.80M39.6 52.60H43.20M276.4 52.60H272.80M39.6 68.50H43.20M276.4 68.50H272.80M39.6 84.40H43.20M276.4 84.40H272.80M39.6 100.30H43.20M276.4 100.30H272.80M39.6 116.20H43.20M276.4 116.20H272.80M39.6 132.10H43.20M276.4 132.10H272.80M39.6 148.00H43.20M276.4 148.00H272.80M39.6 163.90H43.20M276.4 163.90H272.80M39.6 179.80H43.20M276.4 179.80H272.80M39.6 195.70H43.20M276.4 195.70H272.80M39.6 211.60H43.20M276.4 211.60H272.80M39.6 203.65H41.40M276.4 203.65H274.60M39.6 187.75H41.40M276.4 187.75H274.60M39.6 171.85H41.40M276.4 171.85H274.60M39.6 155.95H41.40M276.4 155.95H274.60M39.6 140.05H41.40M276.4 140.05H274.60M39.6 124.15H41.40M276.4 124.15H274.60M39.6 108.25H41.40M276.4 108.25H274.60M39.6 92.35H41.40M276.4 92.35H274.60M39.6 76.45H41.40M276.4 76.45H274.60M39.6 60.55H41.40M276.4 60.55H274.60M39.6 44.65H41.40M276.4 44.65H274.60M39.6 28.75H41.40M276.4 28.75H274.60" stroke="#484848" stroke-width="0.9" fill="none"/>
<text x="35.20" y="24.20" font-size="9.8" text-anchor="end" font-weight="normal" >2</text>
<text x="35.20" y="40.10" font-size="9.8" text-anchor="end" font-weight="normal" >0</text>
<text x="35.20" y="56.00" font-size="9.8" text-anchor="end" font-weight="normal" >-2</text>
<text x="35.20" y="71.90" font-size="9.8" text-anchor="end" font-weight="normal" >-4</text>
<text x="35.20" y="87.80" font-size="9.8" text-anchor="end" font-weight="normal" >-6</text>
<text x="35.20" y="103.70" font-size="9.8" text-anchor="end" font-weight="normal" >-8</text>
<text x="35.20" y="119.60" font-size="9.8" text-anchor="end" font-weight="normal" >-10</text>
<text x="35.20" y="135.50" font-size="9.8" text-anchor="end" font-weight="normal" >-12</text>
<text x="35.20" y="151.40" font-size="9.8" text-anchor="end" font-weight="normal" >-14</text>
<text x="35.20" y="167.30" font-size="9.8" text-anchor="end" font-weight="normal" >-16</text>
<text x="35.20" y="183.20" font-size="9.8" text-anchor="end" font-weight="normal" >-18</text>
<text x="35.20" y="199.10" font-size="9.8" text-anchor="end" font-weight="normal" >-20</text>
<text x="35.20" y="215.00" font-size="9.8" text-anchor="end" font-weight="normal" >-22</text>
<text x="40.70" y="223.40" font-size="9.8" text-anchor="middle" font-weight="normal" >1</text>
<text x="72.88" y="223.40" font-size="9.8" text-anchor="middle" font-weight="normal" >10</text>
<text x="105.06" y="223.40" font-size="9.8" text-anchor="middle" font-weight="normal" >100</text>
<text x="137.24" y="223.40" font-size="9.8" text-anchor="middle" font-weight="normal" >1k</text>
<text x="169.42" y="223.40" font-size="9.8" text-anchor="middle" font-weight="normal" >10k</text>
<text x="201.60" y="223.40" font-size="9.8" text-anchor="middle" font-weight="normal" >100k</text>
<text x="233.78" y="223.40" font-size="9.8" text-anchor="middle" font-weight="normal" >1M</text>
<text x="265.96" y="223.40" font-size="9.8" text-anchor="middle" font-weight="normal" >10M</text>
<text x="153.60" y="15.50" font-size="12.3" text-anchor="middle" font-weight="normal" >Magnitude Response</text>
<text x="158.60" y="241.90" font-size="11.7" text-anchor="middle" font-weight="bold" >Frequency (Hz)</text>
<text x="152.20" y="268.20" font-size="15.9" text-anchor="middle" font-weight="normal" >(a)</text>
<text transform="translate(13.2 116.2) rotate(-90)" font-size="12.5" font-weight="bold" text-anchor="middle">Gain (dB)</text>
<text x="71.80" y="98.60" font-size="8.9" text-anchor="start" font-weight="normal" >PP: Print Pass</text>
<rect x="48.2" y="100.8" width="97.3" height="73.3" fill="#fff" stroke="#606060" stroke-width="0.8"/>
<path d="M48.7 108.20H68.7" stroke="#808080" stroke-width="0.9"/>
<rect x="56.79" y="105.89" width="4.62" height="4.62" fill="#505050"/>
<text x="71.80" y="111.40" font-size="8.9" text-anchor="start" font-weight="normal" xml:space="preserve">R = 228 kΩ, PP=1</text>
<path d="M48.7 120.22H68.7" stroke="#ff7080" stroke-width="0.9"/>
<circle cx="59.10" cy="120.22" r="2.42" fill="#f5001e"/>
<text x="71.80" y="123.42" font-size="8.9" text-anchor="start" font-weight="normal" xml:space="preserve">R =   26 kΩ, PP=2</text>
<path d="M48.7 132.24H68.7" stroke="#a8c4ff" stroke-width="0.9"/>
<path d="M59.10 129.51L61.83 134.29L56.37 134.29Z" fill="#1f5ff0"/>
<text x="71.80" y="135.44" font-size="8.9" text-anchor="start" font-weight="normal" xml:space="preserve">R =   19 kΩ, PP=3</text>
<path d="M48.7 144.26H68.7" stroke="#80d8a8" stroke-width="0.9"/>
<path d="M59.10 146.99L61.94 142.21L56.27 142.21Z" fill="#00a850"/>
<text x="71.80" y="147.46" font-size="8.9" text-anchor="start" font-weight="normal" xml:space="preserve">R =   10 kΩ, PP=4</text>
<path d="M48.7 156.28H68.7" stroke="#e4a8f8" stroke-width="0.9"/>
<path d="M59.10 153.44L61.94 156.28L59.10 159.12L56.27 156.28Z" fill="#c050e8"/>
<text x="71.80" y="159.48" font-size="8.9" text-anchor="start" font-weight="normal" xml:space="preserve">R =  6.6 kΩ, PP=5</text>
<path d="M48.7 168.30H68.7" stroke="#eeb050" stroke-width="0.9"/>
<path d="M56.27 168.30L61.23 165.31L61.23 171.29Z" fill="#e69a12"/>
<text x="71.80" y="171.50" font-size="8.9" text-anchor="start" font-weight="normal" xml:space="preserve">R =  1.7 kΩ, PP=6</text>
<path d="M370.34 70.70L373.66 70.74L376.99 70.78L380.31 70.83L383.63 70.87L386.95 70.91L390.28 70.95L393.60 70.99L396.92 71.03L400.24 71.08L403.57 71.12L406.89 71.16L410.21 71.20L413.54 72.71L416.86 74.47L420.18 76.20L423.50 78.41L426.83 80.50L430.15 83.26L433.47 85.42L436.79 88.21L440.12 91.42L443.44 95.57L446.76 100.64L450.09 106.87L453.41 113.90L456.73 123.28L460.05 134.95L463.38 146.00L466.70 159.47L470.02 170.88L473.35 177.69L476.67 184.42L479.99 186.81L483.31 183.01L486.64 175.45L489.96 162.95L493.28 144.05L496.60 122.04L499.93 103.37L503.25 82.84L506.57 66.58L509.90 55.13L513.22 47.17L516.54 42.72L519.86 40.93L523.19 40.58L526.51 41.27L529.83 43.07L533.15 45.50L536.48 47.81L539.80 49.64L543.12 51.05L546.45 51.88L549.77 51.76L553.09 50.66L556.41 43.71L559.74 38.87L563.06 40.43L566.38 40.85L569.70 37.82" fill="none" stroke="#808080" stroke-width="0.6"/>
<g><rect x="368.14" y="68.50" width="4.40" height="4.40" fill="#505050"/><rect x="371.46" y="68.54" width="4.40" height="4.40" fill="#505050"/><rect x="374.79" y="68.58" width="4.40" height="4.40" fill="#505050"/><rect x="378.11" y="68.63" width="4.40" height="4.40" fill="#505050"/><rect x="381.43" y="68.67" width="4.40" height="4.40" fill="#505050"/><rect x="384.75" y="68.71" width="4.40" height="4.40" fill="#505050"/><rect x="388.08" y="68.75" width="4.40" height="4.40" fill="#505050"/><rect x="391.40" y="68.79" width="4.40" height="4.40" fill="#505050"/><rect x="394.72" y="68.83" width="4.40" height="4.40" fill="#505050"/><rect x="398.04" y="68.88" width="4.40" height="4.40" fill="#505050"/><rect x="401.37" y="68.92" width="4.40" height="4.40" fill="#505050"/><rect x="404.69" y="68.96" width="4.40" height="4.40" fill="#505050"/><rect x="408.01" y="69.00" width="4.40" height="4.40" fill="#505050"/><rect x="411.34" y="70.51" width="4.40" height="4.40" fill="#505050"/><rect x="414.66" y="72.27" width="4.40" height="4.40" fill="#505050"/><rect x="417.98" y="74.00" width="4.40" height="4.40" fill="#505050"/><rect x="421.30" y="76.21" width="4.40" height="4.40" fill="#505050"/><rect x="424.63" y="78.30" width="4.40" height="4.40" fill="#505050"/><rect x="427.95" y="81.06" width="4.40" height="4.40" fill="#505050"/><rect x="431.27" y="83.22" width="4.40" height="4.40" fill="#505050"/><rect x="434.59" y="86.01" width="4.40" height="4.40" fill="#505050"/><rect x="437.92" y="89.22" width="4.40" height="4.40" fill="#505050"/><rect x="441.24" y="93.37" width="4.40" height="4.40" fill="#505050"/><rect x="444.56" y="98.44" width="4.40" height="4.40" fill="#505050"/><rect x="447.89" y="104.67" width="4.40" height="4.40" fill="#505050"/><rect x="451.21" y="111.70" width="4.40" height="4.40" fill="#505050"/><rect x="454.53" y="121.08" width="4.40" height="4.40" fill="#505050"/><rect x="457.85" y="132.75" width="4.40" height="4.40" fill="#505050"/><rect x="461.18" y="143.80" width="4.40" height="4.40" fill="#505050"/><rect x="464.50" y="157.27" width="4.40" height="4.40" fill="#505050"/><rect x="467.82" y="168.68" width="4.40" height="4.40" fill="#505050"/><rect x="471.15" y="175.49" width="4.40" height="4.40" fill="#505050"/><rect x="474.47" y="182.22" width="4.40" height="4.40" fill="#505050"/><rect x="477.79" y="184.61" width="4.40" height="4.40" fill="#505050"/><rect x="481.11" y="180.81" width="4.40" height="4.40" fill="#505050"/><rect x="484.44" y="173.25" width="4.40" height="4.40" fill="#505050"/><rect x="487.76" y="160.75" width="4.40" height="4.40" fill="#505050"/><rect x="491.08" y="141.85" width="4.40" height="4.40" fill="#505050"/><rect x="494.40" y="119.84" width="4.40" height="4.40" fill="#505050"/><rect x="497.73" y="101.17" width="4.40" height="4.40" fill="#505050"/><rect x="501.05" y="80.64" width="4.40" height="4.40" fill="#505050"/><rect x="504.37" y="64.38" width="4.40" height="4.40" fill="#505050"/><rect x="507.70" y="52.93" width="4.40" height="4.40" fill="#505050"/><rect x="511.02" y="44.97" width="4.40" height="4.40" fill="#505050"/><rect x="514.34" y="40.52" width="4.40" height="4.40" fill="#505050"/><rect x="517.66" y="38.73" width="4.40" height="4.40" fill="#505050"/><rect x="520.99" y="38.38" width="4.40" height="4.40" fill="#505050"/><rect x="524.31" y="39.07" width="4.40" height="4.40" fill="#505050"/><rect x="527.63" y="40.87" width="4.40" height="4.40" fill="#505050"/><rect x="530.95" y="43.30" width="4.40" height="4.40" fill="#505050"/><rect x="534.28" y="45.61" width="4.40" height="4.40" fill="#505050"/><rect x="537.60" y="47.44" width="4.40" height="4.40" fill="#505050"/><rect x="540.92" y="48.85" width="4.40" height="4.40" fill="#505050"/><rect x="544.25" y="49.67" width="4.40" height="4.40" fill="#505050"/><rect x="547.57" y="49.56" width="4.40" height="4.40" fill="#505050"/><rect x="550.89" y="48.46" width="4.40" height="4.40" fill="#505050"/><rect x="554.21" y="41.51" width="4.40" height="4.40" fill="#505050"/><rect x="557.54" y="36.67" width="4.40" height="4.40" fill="#505050"/><rect x="560.86" y="38.23" width="4.40" height="4.40" fill="#505050"/><rect x="564.18" y="38.65" width="4.40" height="4.40" fill="#505050"/><rect x="567.50" y="35.62" width="4.40" height="4.40" fill="#505050"/></g>
<path d="M370.34 70.70L373.66 70.70L376.99 70.70L380.31 70.70L383.63 70.70L386.95 70.70L390.28 70.70L393.60 70.70L396.92 70.70L400.24 70.70L403.57 70.70L406.89 70.70L410.21 70.70L413.54 70.70L416.86 70.70L420.18 70.70L423.50 70.70L426.83 70.70L430.15 70.70L433.47 71.24L436.79 71.83L440.12 72.42L443.44 73.05L446.76 73.97L450.09 74.90L453.41 75.82L456.73 76.76L460.05 78.21L463.38 79.87L466.70 81.72L470.02 84.00L473.35 86.88L476.67 90.74L479.99 95.83L483.31 104.90L486.64 112.07L489.96 121.55L493.28 129.81L496.60 139.79L499.93 150.76L503.25 159.56L506.57 165.11L509.90 166.74L513.22 165.23L516.54 158.74L519.86 148.67L523.19 136.11L526.51 122.83L529.83 111.13L533.15 101.71L536.48 93.70L539.80 87.02L543.12 82.25L546.45 77.48L549.77 70.20L553.09 68.19L556.41 58.15L559.74 44.35L563.06 51.23L566.38 50.27L569.70 44.87" fill="none" stroke="#ff7080" stroke-width="0.6"/>
<g><circle cx="370.34" cy="70.70" r="2.30" fill="#f5001e"/><circle cx="373.66" cy="70.70" r="2.30" fill="#f5001e"/><circle cx="376.99" cy="70.70" r="2.30" fill="#f5001e"/><circle cx="380.31" cy="70.70" r="2.30" fill="#f5001e"/><circle cx="383.63" cy="70.70" r="2.30" fill="#f5001e"/><circle cx="386.95" cy="70.70" r="2.30" fill="#f5001e"/><circle cx="390.28" cy="70.70" r="2.30" fill="#f5001e"/><circle cx="393.60" cy="70.70" r="2.30" fill="#f5001e"/><circle cx="396.92" cy="70.70" r="2.30" fill="#f5001e"/><circle cx="400.24" cy="70.70" r="2.30" fill="#f5001e"/><circle cx="403.57" cy="70.70" r="2.30" fill="#f5001e"/><circle cx="406.89" cy="70.70" r="2.30" fill="#f5001e"/><circle cx="410.21" cy="70.70" r="2.30" fill="#f5001e"/><circle cx="413.54" cy="70.70" r="2.30" fill="#f5001e"/><circle cx="416.86" cy="70.70" r="2.30" fill="#f5001e"/><circle cx="420.18" cy="70.70" r="2.30" fill="#f5001e"/><circle cx="423.50" cy="70.70" r="2.30" fill="#f5001e"/><circle cx="426.83" cy="70.70" r="2.30" fill="#f5001e"/><circle cx="430.15" cy="70.70" r="2.30" fill="#f5001e"/><circle cx="433.47" cy="71.24" r="2.30" fill="#f5001e"/><circle cx="436.79" cy="71.83" r="2.30" fill="#f5001e"/><circle cx="440.12" cy="72.42" r="2.30" fill="#f5001e"/><circle cx="443.44" cy="73.05" r="2.30" fill="#f5001e"/><circle cx="446.76" cy="73.97" r="2.30" fill="#f5001e"/><circle cx="450.09" cy="74.90" r="2.30" fill="#f5001e"/><circle cx="453.41" cy="75.82" r="2.30" fill="#f5001e"/><circle cx="456.73" cy="76.76" r="2.30" fill="#f5001e"/><circle cx="460.05" cy="78.21" r="2.30" fill="#f5001e"/><circle cx="463.38" cy="79.87" r="2.30" fill="#f5001e"/><circle cx="466.70" cy="81.72" r="2.30" fill="#f5001e"/><circle cx="470.02" cy="84.00" r="2.30" fill="#f5001e"/><circle cx="473.35" cy="86.88" r="2.30" fill="#f5001e"/><circle cx="476.67" cy="90.74" r="2.30" fill="#f5001e"/><circle cx="479.99" cy="95.83" r="2.30" fill="#f5001e"/><circle cx="483.31" cy="104.90" r="2.30" fill="#f5001e"/><circle cx="486.64" cy="112.07" r="2.30" fill="#f5001e"/><circle cx="489.96" cy="121.55" r="2.30" fill="#f5001e"/><circle cx="493.28" cy="129.81" r="2.30" fill="#f5001e"/><circle cx="496.60" cy="139.79" r="2.30" fill="#f5001e"/><circle cx="499.93" cy="150.76" r="2.30" fill="#f5001e"/><circle cx="503.25" cy="159.56" r="2.30" fill="#f5001e"/><circle cx="506.57" cy="165.11" r="2.30" fill="#f5001e"/><circle cx="509.90" cy="166.74" r="2.30" fill="#f5001e"/><circle cx="513.22" cy="165.23" r="2.30" fill="#f5001e"/><circle cx="516.54" cy="158.74" r="2.30" fill="#f5001e"/><circle cx="519.86" cy="148.67" r="2.30" fill="#f5001e"/><circle cx="523.19" cy="136.11" r="2.30" fill="#f5001e"/><circle cx="526.51" cy="122.83" r="2.30" fill="#f5001e"/><circle cx="529.83" cy="111.13" r="2.30" fill="#f5001e"/><circle cx="533.15" cy="101.71" r="2.30" fill="#f5001e"/><circle cx="536.48" cy="93.70" r="2.30" fill="#f5001e"/><circle cx="539.80" cy="87.02" r="2.30" fill="#f5001e"/><circle cx="543.12" cy="82.25" r="2.30" fill="#f5001e"/><circle cx="546.45" cy="77.48" r="2.30" fill="#f5001e"/><circle cx="549.77" cy="70.20" r="2.30" fill="#f5001e"/><circle cx="553.09" cy="68.19" r="2.30" fill="#f5001e"/><circle cx="556.41" cy="58.15" r="2.30" fill="#f5001e"/><circle cx="559.74" cy="44.35" r="2.30" fill="#f5001e"/><circle cx="563.06" cy="51.23" r="2.30" fill="#f5001e"/><circle cx="566.38" cy="50.27" r="2.30" fill="#f5001e"/><circle cx="569.70" cy="44.87" r="2.30" fill="#f5001e"/></g>
<path d="M370.34 70.70L373.66 70.70L376.99 70.70L380.31 70.70L383.63 70.70L386.95 70.70L390.28 70.70L393.60 70.70L396.92 70.70L400.24 70.70L403.57 70.70L406.89 70.70L410.21 70.70L413.54 70.70L416.86 70.70L420.18 70.70L423.50 70.70L426.83 70.70L430.15 70.70L433.47 71.12L436.79 71.58L440.12 72.04L443.44 72.52L446.76 73.18L450.09 73.83L453.41 74.42L456.73 75.01L460.05 76.16L463.38 77.53L466.70 78.99L470.02 80.38L473.35 83.15L476.67 86.36L479.99 89.84L483.31 95.22L486.64 102.58L489.96 109.89L493.28 117.20L496.60 125.98L499.93 134.77L503.25 143.00L506.57 147.72L509.90 151.22L513.22 148.40L516.54 143.89L519.86 136.04L523.19 125.34L526.51 115.52L529.83 106.11L533.15 97.42L536.48 91.04L539.80 85.01L543.12 80.49L546.45 75.90L549.77 68.60L553.09 66.81L556.41 56.80L559.74 47.11L563.06 52.38L566.38 47.61L569.70 43.09" fill="none" stroke="#a8c4ff" stroke-width="0.6"/>
<g><path d="M370.34 68.10L372.94 72.65L367.74 72.65Z" fill="#1f5ff0"/><path d="M373.66 68.10L376.26 72.65L371.06 72.65Z" fill="#1f5ff0"/><path d="M376.99 68.10L379.59 72.65L374.39 72.65Z" fill="#1f5ff0"/><path d="M380.31 68.10L382.91 72.65L377.71 72.65Z" fill="#1f5ff0"/><path d="M383.63 68.10L386.23 72.65L381.03 72.65Z" fill="#1f5ff0"/><path d="M386.95 68.10L389.55 72.65L384.35 72.65Z" fill="#1f5ff0"/><path d="M390.28 68.10L392.88 72.65L387.68 72.65Z" fill="#1f5ff0"/><path d="M393.60 68.10L396.20 72.65L391.00 72.65Z" fill="#1f5ff0"/><path d="M396.92 68.10L399.52 72.65L394.32 72.65Z" fill="#1f5ff0"/><path d="M400.24 68.10L402.84 72.65L397.64 72.65Z" fill="#1f5ff0"/><path d="M403.57 68.10L406.17 72.65L400.97 72.65Z" fill="#1f5ff0"/><path d="M406.89 68.10L409.49 72.65L404.29 72.65Z" fill="#1f5ff0"/><path d="M410.21 68.10L412.81 72.65L407.61 72.65Z" fill="#1f5ff0"/><path d="M413.54 68.10L416.14 72.65L410.94 72.65Z" fill="#1f5ff0"/><path d="M416.86 68.10L419.46 72.65L414.26 72.65Z" fill="#1f5ff0"/><path d="M420.18 68.10L422.78 72.65L417.58 72.65Z" fill="#1f5ff0"/><path d="M423.50 68.10L426.10 72.65L420.90 72.65Z" fill="#1f5ff0"/><path d="M426.83 68.10L429.43 72.65L424.23 72.65Z" fill="#1f5ff0"/><path d="M430.15 68.10L432.75 72.65L427.55 72.65Z" fill="#1f5ff0"/><path d="M433.47 68.52L436.07 73.07L430.87 73.07Z" fill="#1f5ff0"/><path d="M436.79 68.98L439.39 73.53L434.19 73.53Z" fill="#1f5ff0"/><path d="M440.12 69.44L442.72 73.99L437.52 73.99Z" fill="#1f5ff0"/><path d="M443.44 69.92L446.04 74.47L440.84 74.47Z" fill="#1f5ff0"/><path d="M446.76 70.58L449.36 75.13L444.16 75.13Z" fill="#1f5ff0"/><path d="M450.09 71.23L452.69 75.78L447.49 75.78Z" fill="#1f5ff0"/><path d="M453.41 71.82L456.01 76.37L450.81 76.37Z" fill="#1f5ff0"/><path d="M456.73 72.41L459.33 76.96L454.13 76.96Z" fill="#1f5ff0"/><path d="M460.05 73.56L462.65 78.11L457.45 78.11Z" fill="#1f5ff0"/><path d="M463.38 74.93L465.98 79.48L460.78 79.48Z" fill="#1f5ff0"/><path d="M466.70 76.39L469.30 80.94L464.10 80.94Z" fill="#1f5ff0"/><path d="M470.02 77.78L472.62 82.33L467.42 82.33Z" fill="#1f5ff0"/><path d="M473.35 80.55L475.95 85.10L470.75 85.10Z" fill="#1f5ff0"/><path d="M476.67 83.76L479.27 88.31L474.07 88.31Z" fill="#1f5ff0"/><path d="M479.99 87.24L482.59 91.79L477.39 91.79Z" fill="#1f5ff0"/><path d="M483.31 92.62L485.91 97.17L480.71 97.17Z" fill="#1f5ff0"/><path d="M486.64 99.98L489.24 104.53L484.04 104.53Z" fill="#1f5ff0"/><path d="M489.96 107.29L492.56 111.84L487.36 111.84Z" fill="#1f5ff0"/><path d="M493.28 114.60L495.88 119.15L490.68 119.15Z" fill="#1f5ff0"/><path d="M496.60 123.38L499.20 127.93L494.00 127.93Z" fill="#1f5ff0"/><path d="M499.93 132.17L502.53 136.72L497.33 136.72Z" fill="#1f5ff0"/><path d="M503.25 140.40L505.85 144.95L500.65 144.95Z" fill="#1f5ff0"/><path d="M506.57 145.12L509.17 149.67L503.97 149.67Z" fill="#1f5ff0"/><path d="M509.90 148.62L512.50 153.17L507.30 153.17Z" fill="#1f5ff0"/><path d="M513.22 145.80L515.82 150.35L510.62 150.35Z" fill="#1f5ff0"/><path d="M516.54 141.29L519.14 145.84L513.94 145.84Z" fill="#1f5ff0"/><path d="M519.86 133.44L522.46 137.99L517.26 137.99Z" fill="#1f5ff0"/><path d="M523.19 122.74L525.79 127.29L520.59 127.29Z" fill="#1f5ff0"/><path d="M526.51 112.92L529.11 117.47L523.91 117.47Z" fill="#1f5ff0"/><path d="M529.83 103.51L532.43 108.06L527.23 108.06Z" fill="#1f5ff0"/><path d="M533.15 94.82L535.75 99.37L530.55 99.37Z" fill="#1f5ff0"/><path d="M536.48 88.44L539.08 92.99L533.88 92.99Z" fill="#1f5ff0"/><path d="M539.80 82.41L542.40 86.96L537.20 86.96Z" fill="#1f5ff0"/><path d="M543.12 77.89L545.72 82.44L540.52 82.44Z" fill="#1f5ff0"/><path d="M546.45 73.30L549.05 77.85L543.85 77.85Z" fill="#1f5ff0"/><path d="M549.77 66.00L552.37 70.55L547.17 70.55Z" fill="#1f5ff0"/><path d="M553.09 64.21L555.69 68.76L550.49 68.76Z" fill="#1f5ff0"/><path d="M556.41 54.20L559.01 58.75L553.81 58.75Z" fill="#1f5ff0"/><path d="M559.74 44.51L562.34 49.06L557.14 49.06Z" fill="#1f5ff0"/><path d="M563.06 49.78L565.66 54.33L560.46 54.33Z" fill="#1f5ff0"/><path d="M566.38 45.01L568.98 49.56L563.78 49.56Z" fill="#1f5ff0"/><path d="M569.70 40.49L572.30 45.04L567.10 45.04Z" fill="#1f5ff0"/></g>
<path d="M370.34 70.70L373.66 70.70L376.99 70.70L380.31 70.70L383.63 70.70L386.95 70.70L390.28 70.70L393.60 70.70L396.92 70.70L400.24 70.70L403.57 70.70L406.89 70.70L410.21 70.70L413.54 70.70L416.86 70.70L420.18 70.70L423.50 70.70L426.83 70.70L430.15 70.70L433.47 70.70L436.79 71.00L440.12 71.32L443.44 71.63L446.76 71.95L450.09 72.24L453.41 72.42L456.73 72.60L460.05 72.77L463.38 73.19L466.70 74.38L470.02 76.01L473.35 77.47L476.67 78.85L479.99 80.39L483.31 83.53L486.64 86.91L489.96 91.45L493.28 96.83L496.60 103.00L499.93 110.99L503.25 122.21L506.57 130.11L509.90 138.86L513.22 147.89L516.54 154.24L519.86 159.11L523.19 160.29L526.51 158.47L529.83 153.79L533.15 145.14L536.48 136.00L539.80 127.55L543.12 117.52L546.45 107.44L549.77 97.38L553.09 90.28L556.41 78.61L559.74 58.66L563.06 58.65L566.38 58.65L569.70 54.13" fill="none" stroke="#80d8a8" stroke-width="0.6"/>
<g><path d="M370.34 73.30L373.04 68.75L367.64 68.75Z" fill="#00a850"/><path d="M373.66 73.30L376.36 68.75L370.96 68.75Z" fill="#00a850"/><path d="M376.99 73.30L379.69 68.75L374.29 68.75Z" fill="#00a850"/><path d="M380.31 73.30L383.01 68.75L377.61 68.75Z" fill="#00a850"/><path d="M383.63 73.30L386.33 68.75L380.93 68.75Z" fill="#00a850"/><path d="M386.95 73.30L389.65 68.75L384.25 68.75Z" fill="#00a850"/><path d="M390.28 73.30L392.98 68.75L387.58 68.75Z" fill="#00a850"/><path d="M393.60 73.30L396.30 68.75L390.90 68.75Z" fill="#00a850"/><path d="M396.92 73.30L399.62 68.75L394.22 68.75Z" fill="#00a850"/><path d="M400.24 73.30L402.94 68.75L397.54 68.75Z" fill="#00a850"/><path d="M403.57 73.30L406.27 68.75L400.87 68.75Z" fill="#00a850"/><path d="M406.89 73.30L409.59 68.75L404.19 68.75Z" fill="#00a850"/><path d="M410.21 73.30L412.91 68.75L407.51 68.75Z" fill="#00a850"/><path d="M413.54 73.30L416.24 68.75L410.84 68.75Z" fill="#00a850"/><path d="M416.86 73.30L419.56 68.75L414.16 68.75Z" fill="#00a850"/><path d="M420.18 73.30L422.88 68.75L417.48 68.75Z" fill="#00a850"/><path d="M423.50 73.30L426.20 68.75L420.80 68.75Z" fill="#00a850"/><path d="M426.83 73.30L429.53 68.75L424.13 68.75Z" fill="#00a850"/><path d="M430.15 73.30L432.85 68.75L427.45 68.75Z" fill="#00a850"/><path d="M433.47 73.30L436.17 68.75L430.77 68.75Z" fill="#00a850"/><path d="M436.79 73.60L439.49 69.05L434.09 69.05Z" fill="#00a850"/><path d="M440.12 73.92L442.82 69.37L437.42 69.37Z" fill="#00a850"/><path d="M443.44 74.23L446.14 69.68L440.74 69.68Z" fill="#00a850"/><path d="M446.76 74.55L449.46 70.00L444.06 70.00Z" fill="#00a850"/><path d="M450.09 74.84L452.79 70.29L447.39 70.29Z" fill="#00a850"/><path d="M453.41 75.02L456.11 70.47L450.71 70.47Z" fill="#00a850"/><path d="M456.73 75.20L459.43 70.65L454.03 70.65Z" fill="#00a850"/><path d="M460.05 75.37L462.75 70.82L457.35 70.82Z" fill="#00a850"/><path d="M463.38 75.79L466.08 71.24L460.68 71.24Z" fill="#00a850"/><path d="M466.70 76.98L469.40 72.43L464.00 72.43Z" fill="#00a850"/><path d="M470.02 78.61L472.72 74.06L467.32 74.06Z" fill="#00a850"/><path d="M473.35 80.07L476.05 75.52L470.65 75.52Z" fill="#00a850"/><path d="M476.67 81.45L479.37 76.90L473.97 76.90Z" fill="#00a850"/><path d="M479.99 82.99L482.69 78.44L477.29 78.44Z" fill="#00a850"/><path d="M483.31 86.13L486.01 81.58L480.61 81.58Z" fill="#00a850"/><path d="M486.64 89.51L489.34 84.96L483.94 84.96Z" fill="#00a850"/><path d="M489.96 94.05L492.66 89.50L487.26 89.50Z" fill="#00a850"/><path d="M493.28 99.43L495.98 94.88L490.58 94.88Z" fill="#00a850"/><path d="M496.60 105.60L499.30 101.05L493.90 101.05Z" fill="#00a850"/><path d="M499.93 113.59L502.63 109.04L497.23 109.04Z" fill="#00a850"/><path d="M503.25 124.81L505.95 120.26L500.55 120.26Z" fill="#00a850"/><path d="M506.57 132.71L509.27 128.16L503.87 128.16Z" fill="#00a850"/><path d="M509.90 141.46L512.60 136.91L507.20 136.91Z" fill="#00a850"/><path d="M513.22 150.49L515.92 145.94L510.52 145.94Z" fill="#00a850"/><path d="M516.54 156.84L519.24 152.29L513.84 152.29Z" fill="#00a850"/><path d="M519.86 161.71L522.56 157.16L517.16 157.16Z" fill="#00a850"/><path d="M523.19 162.89L525.89 158.34L520.49 158.34Z" fill="#00a850"/><path d="M526.51 161.07L529.21 156.52L523.81 156.52Z" fill="#00a850"/><path d="M529.83 156.39L532.53 151.84L527.13 151.84Z" fill="#00a850"/><path d="M533.15 147.74L535.85 143.19L530.45 143.19Z" fill="#00a850"/><path d="M536.48 138.60L539.18 134.05L533.78 134.05Z" fill="#00a850"/><path d="M539.80 130.15L542.50 125.60L537.10 125.60Z" fill="#00a850"/><path d="M543.12 120.12L545.82 115.57L540.42 115.57Z" fill="#00a850"/><path d="M546.45 110.04L549.15 105.49L543.75 105.49Z" fill="#00a850"/><path d="M549.77 99.98L552.47 95.43L547.07 95.43Z" fill="#00a850"/><path d="M553.09 92.88L555.79 88.33L550.39 88.33Z" fill="#00a850"/><path d="M556.41 81.21L559.11 76.66L553.71 76.66Z" fill="#00a850"/><path d="M559.74 61.26L562.44 56.71L557.04 56.71Z" fill="#00a850"/><path d="M563.06 61.25L565.76 56.70L560.36 56.70Z" fill="#00a850"/><path d="M566.38 61.25L569.08 56.70L563.68 56.70Z" fill="#00a850"/><path d="M569.70 56.73L572.40 52.18L567.00 52.18Z" fill="#00a850"/></g>
<path d="M370.34 70.70L373.66 70.70L376.99 70.70L380.31 70.70L383.63 70.70L386.95 70.70L390.28 70.70L393.60 70.70L396.92 70.70L400.24 70.70L403.57 70.70L406.89 70.70L410.21 70.70L413.54 70.70L416.86 70.70L420.18 70.70L423.50 70.70L426.83 70.70L430.15 70.70L433.47 70.70L436.79 70.75L440.12 70.80L443.44 70.86L446.76 70.91L450.09 70.96L453.41 71.01L456.73 71.07L460.05 71.12L463.38 71.17L466.70 71.39L470.02 71.83L473.35 72.27L476.67 73.17L479.99 74.47L483.31 76.18L486.64 78.33L489.96 81.08L493.28 83.69L496.60 86.92L499.93 91.96L503.25 96.28L506.57 101.10L509.90 107.47L513.22 116.02L516.54 123.74L519.86 129.62L523.19 135.73L526.51 140.41L529.83 143.83L533.15 144.40L536.48 142.19L539.80 137.08L543.12 130.47L546.45 122.01L549.77 108.72L553.09 101.58L556.41 89.53L559.74 64.93L563.06 68.69L566.38 61.41L569.70 54.13" fill="none" stroke="#e4a8f8" stroke-width="0.6"/>
<g><path d="M370.34 68.00L373.04 70.70L370.34 73.40L367.64 70.70Z" fill="#c050e8"/><path d="M373.66 68.00L376.36 70.70L373.66 73.40L370.96 70.70Z" fill="#c050e8"/><path d="M376.99 68.00L379.69 70.70L376.99 73.40L374.29 70.70Z" fill="#c050e8"/><path d="M380.31 68.00L383.01 70.70L380.31 73.40L377.61 70.70Z" fill="#c050e8"/><path d="M383.63 68.00L386.33 70.70L383.63 73.40L380.93 70.70Z" fill="#c050e8"/><path d="M386.95 68.00L389.65 70.70L386.95 73.40L384.25 70.70Z" fill="#c050e8"/><path d="M390.28 68.00L392.98 70.70L390.28 73.40L387.58 70.70Z" fill="#c050e8"/><path d="M393.60 68.00L396.30 70.70L393.60 73.40L390.90 70.70Z" fill="#c050e8"/><path d="M396.92 68.00L399.62 70.70L396.92 73.40L394.22 70.70Z" fill="#c050e8"/><path d="M400.24 68.00L402.94 70.70L400.24 73.40L397.54 70.70Z" fill="#c050e8"/><path d="M403.57 68.00L406.27 70.70L403.57 73.40L400.87 70.70Z" fill="#c050e8"/><path d="M406.89 68.00L409.59 70.70L406.89 73.40L404.19 70.70Z" fill="#c050e8"/><path d="M410.21 68.00L412.91 70.70L410.21 73.40L407.51 70.70Z" fill="#c050e8"/><path d="M413.54 68.00L416.24 70.70L413.54 73.40L410.84 70.70Z" fill="#c050e8"/><path d="M416.86 68.00L419.56 70.70L416.86 73.40L414.16 70.70Z" fill="#c050e8"/><path d="M420.18 68.00L422.88 70.70L420.18 73.40L417.48 70.70Z" fill="#c050e8"/><path d="M423.50 68.00L426.20 70.70L423.50 73.40L420.80 70.70Z" fill="#c050e8"/><path d="M426.83 68.00L429.53 70.70L426.83 73.40L424.13 70.70Z" fill="#c050e8"/><path d="M430.15 68.00L432.85 70.70L430.15 73.40L427.45 70.70Z" fill="#c050e8"/><path d="M433.47 68.00L436.17 70.70L433.47 73.40L430.77 70.70Z" fill="#c050e8"/><path d="M436.79 68.05L439.49 70.75L436.79 73.45L434.09 70.75Z" fill="#c050e8"/><path d="M440.12 68.10L442.82 70.80L440.12 73.50L437.42 70.80Z" fill="#c050e8"/><path d="M443.44 68.16L446.14 70.86L443.44 73.56L440.74 70.86Z" fill="#c050e8"/><path d="M446.76 68.21L449.46 70.91L446.76 73.61L444.06 70.91Z" fill="#c050e8"/><path d="M450.09 68.26L452.79 70.96L450.09 73.66L447.39 70.96Z" fill="#c050e8"/><path d="M453.41 68.31L456.11 71.01L453.41 73.71L450.71 71.01Z" fill="#c050e8"/><path d="M456.73 68.37L459.43 71.07L456.73 73.77L454.03 71.07Z" fill="#c050e8"/><path d="M460.05 68.42L462.75 71.12L460.05 73.82L457.35 71.12Z" fill="#c050e8"/><path d="M463.38 68.47L466.08 71.17L463.38 73.87L460.68 71.17Z" fill="#c050e8"/><path d="M466.70 68.69L469.40 71.39L466.70 74.09L464.00 71.39Z" fill="#c050e8"/><path d="M470.02 69.13L472.72 71.83L470.02 74.53L467.32 71.83Z" fill="#c050e8"/><path d="M473.35 69.57L476.05 72.27L473.35 74.97L470.65 72.27Z" fill="#c050e8"/><path d="M476.67 70.47L479.37 73.17L476.67 75.87L473.97 73.17Z" fill="#c050e8"/><path d="M479.99 71.77L482.69 74.47L479.99 77.17L477.29 74.47Z" fill="#c050e8"/><path d="M483.31 73.48L486.01 76.18L483.31 78.88L480.61 76.18Z" fill="#c050e8"/><path d="M486.64 75.63L489.34 78.33L486.64 81.03L483.94 78.33Z" fill="#c050e8"/><path d="M489.96 78.38L492.66 81.08L489.96 83.78L487.26 81.08Z" fill="#c050e8"/><path d="M493.28 80.99L495.98 83.69L493.28 86.39L490.58 83.69Z" fill="#c050e8"/><path d="M496.60 84.22L499.30 86.92L496.60 89.62L493.90 86.92Z" fill="#c050e8"/><path d="M499.93 89.26L502.63 91.96L499.93 94.66L497.23 91.96Z" fill="#c050e8"/><path d="M503.25 93.58L505.95 96.28L503.25 98.98L500.55 96.28Z" fill="#c050e8"/><path d="M506.57 98.40L509.27 101.10L506.57 103.80L503.87 101.10Z" fill="#c050e8"/><path d="M509.90 104.77L512.60 107.47L509.90 110.17L507.20 107.47Z" fill="#c050e8"/><path d="M513.22 113.32L515.92 116.02L513.22 118.72L510.52 116.02Z" fill="#c050e8"/><path d="M516.54 121.04L519.24 123.74L516.54 126.44L513.84 123.74Z" fill="#c050e8"/><path d="M519.86 126.92L522.56 129.62L519.86 132.32L517.16 129.62Z" fill="#c050e8"/><path d="M523.19 133.03L525.89 135.73L523.19 138.43L520.49 135.73Z" fill="#c050e8"/><path d="M526.51 137.71L529.21 140.41L526.51 143.11L523.81 140.41Z" fill="#c050e8"/><path d="M529.83 141.13L532.53 143.83L529.83 146.53L527.13 143.83Z" fill="#c050e8"/><path d="M533.15 141.70L535.85 144.40L533.15 147.10L530.45 144.40Z" fill="#c050e8"/><path d="M536.48 139.49L539.18 142.19L536.48 144.89L533.78 142.19Z" fill="#c050e8"/><path d="M539.80 134.38L542.50 137.08L539.80 139.78L537.10 137.08Z" fill="#c050e8"/><path d="M543.12 127.77L545.82 130.47L543.12 133.17L540.42 130.47Z" fill="#c050e8"/><path d="M546.45 119.31L549.15 122.01L546.45 124.71L543.75 122.01Z" fill="#c050e8"/><path d="M549.77 106.02L552.47 108.72L549.77 111.42L547.07 108.72Z" fill="#c050e8"/><path d="M553.09 98.88L555.79 101.58L553.09 104.28L550.39 101.58Z" fill="#c050e8"/><path d="M556.41 86.83L559.11 89.53L556.41 92.23L553.71 89.53Z" fill="#c050e8"/><path d="M559.74 62.23L562.44 64.93L559.74 67.63L557.04 64.93Z" fill="#c050e8"/><path d="M563.06 65.99L565.76 68.69L563.06 71.39L560.36 68.69Z" fill="#c050e8"/><path d="M566.38 58.71L569.08 61.41L566.38 64.11L563.68 61.41Z" fill="#c050e8"/><path d="M569.70 51.43L572.40 54.13L569.70 56.83L567.00 54.13Z" fill="#c050e8"/></g>
<path d="M370.34 70.70L373.66 70.70L376.99 70.70L380.31 70.70L383.63 70.70L386.95 70.70L390.28 70.70L393.60 70.70L396.92 70.70L400.24 70.70L403.57 70.70L406.89 70.70L410.21 70.70L413.54 70.70L416.86 70.70L420.18 70.70L423.50 70.70L426.83 70.70L430.15 70.70L433.47 70.70L436.79 70.55L440.12 70.39L443.44 70.23L446.76 70.07L450.09 69.90L453.41 69.63L456.73 69.37L460.05 69.10L463.38 68.84L466.70 68.60L470.02 68.39L473.35 68.18L476.67 67.97L479.99 67.76L483.31 68.03L486.64 68.54L489.96 69.05L493.28 71.63L496.60 74.51L499.93 76.55L503.25 77.92L506.57 79.94L509.90 82.66L513.22 85.53L516.54 89.01L519.86 95.18L523.19 101.69L526.51 108.99L529.83 117.70L533.15 126.89L536.48 135.29L539.80 145.38L543.12 152.19L546.45 158.03L549.77 159.18L553.09 159.30L556.41 154.83L559.74 132.20L563.06 128.68L566.38 121.12L569.70 109.60" fill="none" stroke="#eeb050" stroke-width="0.6"/>
<g><path d="M367.64 70.70L372.36 67.85L372.36 73.55Z" fill="#e69a12"/><path d="M370.96 70.70L375.69 67.85L375.69 73.55Z" fill="#e69a12"/><path d="M374.29 70.70L379.01 67.85L379.01 73.55Z" fill="#e69a12"/><path d="M377.61 70.70L382.33 67.85L382.33 73.55Z" fill="#e69a12"/><path d="M380.93 70.70L385.66 67.85L385.66 73.55Z" fill="#e69a12"/><path d="M384.25 70.70L388.98 67.85L388.98 73.55Z" fill="#e69a12"/><path d="M387.58 70.70L392.30 67.85L392.30 73.55Z" fill="#e69a12"/><path d="M390.90 70.70L395.62 67.85L395.62 73.55Z" fill="#e69a12"/><path d="M394.22 70.70L398.95 67.85L398.95 73.55Z" fill="#e69a12"/><path d="M397.54 70.70L402.27 67.85L402.27 73.55Z" fill="#e69a12"/><path d="M400.87 70.70L405.59 67.85L405.59 73.55Z" fill="#e69a12"/><path d="M404.19 70.70L408.92 67.85L408.92 73.55Z" fill="#e69a12"/><path d="M407.51 70.70L412.24 67.85L412.24 73.55Z" fill="#e69a12"/><path d="M410.84 70.70L415.56 67.85L415.56 73.55Z" fill="#e69a12"/><path d="M414.16 70.70L418.88 67.85L418.88 73.55Z" fill="#e69a12"/><path d="M417.48 70.70L422.21 67.85L422.21 73.55Z" fill="#e69a12"/><path d="M420.80 70.70L425.53 67.85L425.53 73.55Z" fill="#e69a12"/><path d="M424.13 70.70L428.85 67.85L428.85 73.55Z" fill="#e69a12"/><path d="M427.45 70.70L432.17 67.85L432.17 73.55Z" fill="#e69a12"/><path d="M430.77 70.70L435.50 67.85L435.50 73.55Z" fill="#e69a12"/><path d="M434.09 70.55L438.82 67.70L438.82 73.40Z" fill="#e69a12"/><path d="M437.42 70.39L442.14 67.54L442.14 73.24Z" fill="#e69a12"/><path d="M440.74 70.23L445.47 67.38L445.47 73.08Z" fill="#e69a12"/><path d="M444.06 70.07L448.79 67.22L448.79 72.92Z" fill="#e69a12"/><path d="M447.39 69.90L452.11 67.05L452.11 72.75Z" fill="#e69a12"/><path d="M450.71 69.63L455.43 66.78L455.43 72.48Z" fill="#e69a12"/><path d="M454.03 69.37L458.76 66.52L458.76 72.22Z" fill="#e69a12"/><path d="M457.35 69.10L462.08 66.25L462.08 71.95Z" fill="#e69a12"/><path d="M460.68 68.84L465.40 65.99L465.40 71.69Z" fill="#e69a12"/><path d="M464.00 68.60L468.72 65.75L468.72 71.45Z" fill="#e69a12"/><path d="M467.32 68.39L472.05 65.54L472.05 71.24Z" fill="#e69a12"/><path d="M470.65 68.18L475.37 65.33L475.37 71.03Z" fill="#e69a12"/><path d="M473.97 67.97L478.69 65.12L478.69 70.82Z" fill="#e69a12"/><path d="M477.29 67.76L482.02 64.91L482.02 70.61Z" fill="#e69a12"/><path d="M480.61 68.03L485.34 65.18L485.34 70.88Z" fill="#e69a12"/><path d="M483.94 68.54L488.66 65.69L488.66 71.39Z" fill="#e69a12"/><path d="M487.26 69.05L491.98 66.20L491.98 71.90Z" fill="#e69a12"/><path d="M490.58 71.63L495.31 68.78L495.31 74.48Z" fill="#e69a12"/><path d="M493.90 74.51L498.63 71.66L498.63 77.36Z" fill="#e69a12"/><path d="M497.23 76.55L501.95 73.70L501.95 79.40Z" fill="#e69a12"/><path d="M500.55 77.92L505.27 75.07L505.27 80.77Z" fill="#e69a12"/><path d="M503.87 79.94L508.60 77.09L508.60 82.79Z" fill="#e69a12"/><path d="M507.20 82.66L511.92 79.81L511.92 85.51Z" fill="#e69a12"/><path d="M510.52 85.53L515.24 82.68L515.24 88.38Z" fill="#e69a12"/><path d="M513.84 89.01L518.57 86.16L518.57 91.86Z" fill="#e69a12"/><path d="M517.16 95.18L521.89 92.33L521.89 98.03Z" fill="#e69a12"/><path d="M520.49 101.69L525.21 98.84L525.21 104.54Z" fill="#e69a12"/><path d="M523.81 108.99L528.53 106.14L528.53 111.84Z" fill="#e69a12"/><path d="M527.13 117.70L531.86 114.85L531.86 120.55Z" fill="#e69a12"/><path d="M530.45 126.89L535.18 124.04L535.18 129.74Z" fill="#e69a12"/><path d="M533.78 135.29L538.50 132.44L538.50 138.14Z" fill="#e69a12"/><path d="M537.10 145.38L541.82 142.53L541.82 148.23Z" fill="#e69a12"/><path d="M540.42 152.19L545.15 149.34L545.15 155.04Z" fill="#e69a12"/><path d="M543.75 158.03L548.47 155.18L548.47 160.88Z" fill="#e69a12"/><path d="M547.07 159.18L551.79 156.33L551.79 162.03Z" fill="#e69a12"/><path d="M550.39 159.30L555.12 156.45L555.12 162.15Z" fill="#e69a12"/><path d="M553.71 154.83L558.44 151.98L558.44 157.68Z" fill="#e69a12"/><path d="M557.04 132.20L561.76 129.35L561.76 135.05Z" fill="#e69a12"/><path d="M560.36 128.68L565.08 125.83L565.08 131.53Z" fill="#e69a12"/><path d="M563.68 121.12L568.41 118.27L568.41 123.97Z" fill="#e69a12"/><path d="M567.00 109.60L571.73 106.75L571.73 112.45Z" fill="#e69a12"/></g>
<rect x="338.5" y="20.5" width="233.0" height="188.8" fill="none" stroke="#484848" stroke-width="1.15"/>
<path d="M338.70 209.3V205.90M338.70 20.5V23.90M348.22 209.3V207.50M348.22 20.5V22.30M353.80 209.3V207.50M353.80 20.5V22.30M357.75 209.3V207.50M357.75 20.5V22.30M360.82 209.3V207.50M360.82 20.5V22.30M363.32 209.3V207.50M363.32 20.5V22.30M365.44 209.3V207.50M365.44 20.5V22.30M367.27 209.3V207.50M367.27 20.5V22.30M368.89 209.3V207.50M368.89 20.5V22.30M370.34 209.3V205.90M370.34 20.5V23.90M379.86 209.3V207.50M379.86 20.5V22.30M385.44 209.3V207.50M385.44 20.5V22.30M389.39 209.3V207.50M389.39 20.5V22.30M392.46 209.3V207.50M392.46 20.5V22.30M394.96 209.3V207.50M394.96 20.5V22.30M397.08 209.3V207.50M397.08 20.5V22.30M398.91 209.3V207.50M398.91 20.5V22.30M400.53 209.3V207.50M400.53 20.5V22.30M401.98 209.3V205.90M401.98 20.5V23.90M411.50 209.3V207.50M411.50 20.5V22.30M417.08 209.3V207.50M417.08 20.5V22.30M421.03 209.3V207.50M421.03 20.5V22.30M424.10 209.3V207.50M424.10 20.5V22.30M426.60 209.3V207.50M426.60 20.5V22.30M428.72 209.3V207.50M428.72 20.5V22.30M430.55 209.3V207.50M430.55 20.5V22.30M432.17 209.3V207.50M432.17 20.5V22.30M433.62 209.3V205.90M433.62 20.5V23.90M443.14 209.3V207.50M443.14 20.5V22.30M448.72 209.3V207.50M448.72 20.5V22.30M452.67 209.3V207.50M452.67 20.5V22.30M455.74 209.3V207.50M455.74 20.5V22.30M458.24 209.3V207.50M458.24 20.5V22.30M460.36 209.3V207.50M460.36 20.5V22.30M462.19 209.3V207.50M462.19 20.5V22.30M463.81 209.3V207.50M463.81 20.5V22.30M465.26 209.3V205.90M465.26 20.5V23.90M474.78 209.3V207.50M474.78 20.5V22.30M480.36 209.3V207.50M480.36 20.5V22.30M484.31 209.3V207.50M484.31 20.5V22.30M487.38 209.3V207.50M487.38 20.5V22.30M489.88 209.3V207.50M489.88 20.5V22.30M492.00 209.3V207.50M492.00 20.5V22.30M493.83 209.3V207.50M493.83 20.5V22.30M495.45 209.3V207.50M495.45 20.5V22.30M496.90 209.3V205.90M496.90 20.5V23.90M506.42 209.3V207.50M506.42 20.5V22.30M512.00 209.3V207.50M512.00 20.5V22.30M515.95 209.3V207.50M515.95 20.5V22.30M519.02 209.3V207.50M519.02 20.5V22.30M521.52 209.3V207.50M521.52 20.5V22.30M523.64 209.3V207.50M523.64 20.5V22.30M525.47 209.3V207.50M525.47 20.5V22.30M527.09 209.3V207.50M527.09 20.5V22.30M528.54 209.3V205.90M528.54 20.5V23.90M538.06 209.3V207.50M538.06 20.5V22.30M543.64 209.3V207.50M543.64 20.5V22.30M547.59 209.3V207.50M547.59 20.5V22.30M550.66 209.3V207.50M550.66 20.5V22.30M553.16 209.3V207.50M553.16 20.5V22.30M555.28 209.3V207.50M555.28 20.5V22.30M557.11 209.3V207.50M557.11 20.5V22.30M558.73 209.3V207.50M558.73 20.5V22.30M560.18 209.3V205.90M560.18 20.5V23.90M569.70 209.3V207.50M569.70 20.5V22.30M338.5 20.50H342.10M571.5 20.50H567.90M338.5 45.60H342.10M571.5 45.60H567.90M338.5 70.70H342.10M571.5 70.70H567.90M338.5 95.80H342.10M571.5 95.80H567.90M338.5 120.90H342.10M571.5 120.90H567.90M338.5 146.00H342.10M571.5 146.00H567.90M338.5 171.10H342.10M571.5 171.10H567.90M338.5 196.20H342.10M571.5 196.20H567.90M338.5 183.65H340.30M571.5 183.65H569.70M338.5 158.55H340.30M571.5 158.55H569.70M338.5 133.45H340.30M571.5 133.45H569.70M338.5 108.35H340.30M571.5 108.35H569.70M338.5 83.25H340.30M571.5 83.25H569.70M338.5 58.15H340.30M571.5 58.15H569.70M338.5 33.05H340.30M571.5 33.05H569.70" stroke="#484848" stroke-width="0.9" fill="none"/>
<text x="334.60" y="23.90" font-size="10.0" text-anchor="end" font-weight="normal" >20</text>
<text x="334.60" y="49.00" font-size="10.0" text-anchor="end" font-weight="normal" >10</text>
<text x="334.60" y="74.10" font-size="10.0" text-anchor="end" font-weight="normal" >0</text>
<text x="334.60" y="99.20" font-size="10.0" text-anchor="end" font-weight="normal" >-10</text>
<text x="334.60" y="124.30" font-size="10.0" text-anchor="end" font-weight="normal" >-20</text>
<text x="334.60" y="149.40" font-size="10.0" text-anchor="end" font-weight="normal" >-30</text>
<text x="334.60" y="174.50" font-size="10.0" text-anchor="end" font-weight="normal" >-40</text>
<text x="334.60" y="199.60" font-size="10.0" text-anchor="end" font-weight="normal" >-50</text>
<text x="339.10" y="221.80" font-size="10.0" text-anchor="middle" font-weight="normal" >1</text>
<text x="370.74" y="221.80" font-size="10.0" text-anchor="middle" font-weight="normal" >10</text>
<text x="402.38" y="221.80" font-size="10.0" text-anchor="middle" font-weight="normal" >100</text>
<text x="434.02" y="221.80" font-size="10.0" text-anchor="middle" font-weight="normal" >1k</text>
<text x="465.66" y="221.80" font-size="10.0" text-anchor="middle" font-weight="normal" >10k</text>
<text x="497.30" y="221.80" font-size="10.0" text-anchor="middle" font-weight="normal" >100k</text>
<text x="528.94" y="221.80" font-size="10.0" text-anchor="middle" font-weight="normal" >1M</text>
<text x="560.58" y="221.80" font-size="10.0" text-anchor="middle" font-weight="normal" >10M</text>
<text x="451.10" y="15.40" font-size="12.0" text-anchor="middle" font-weight="normal" >Phase Response</text>
<text x="455.20" y="240.20" font-size="12.3" text-anchor="middle" font-weight="bold" >Frequency (Hz)</text>
<text x="445.90" y="269.20" font-size="15.9" text-anchor="middle" font-weight="normal" >(b)</text>
<text transform="translate(309.7 114.9) rotate(-90)" font-size="12.3" font-weight="bold" text-anchor="middle">Phase (°)</text>
<text x="365.90" y="106.30" font-size="8.9" text-anchor="start" font-weight="normal" >PP: Print Pass</text>
<rect x="342.3" y="109.1" width="96.39999999999998" height="72.6" fill="#fff" stroke="#606060" stroke-width="0.8"/>
<path d="M343 116.50H362.7" stroke="#808080" stroke-width="0.9"/>
<rect x="350.89" y="114.19" width="4.62" height="4.62" fill="#505050"/>
<text x="365.90" y="119.70" font-size="8.9" text-anchor="start" font-weight="normal" xml:space="preserve">R = 228 kΩ, PP=1</text>
<path d="M343 128.44H362.7" stroke="#ff7080" stroke-width="0.9"/>
<circle cx="353.20" cy="128.44" r="2.42" fill="#f5001e"/>
<text x="365.90" y="131.64" font-size="8.9" text-anchor="start" font-weight="normal" xml:space="preserve">R =   26 kΩ, PP=2</text>
<path d="M343 140.38H362.7" stroke="#a8c4ff" stroke-width="0.9"/>
<path d="M353.20 137.65L355.93 142.43L350.47 142.43Z" fill="#1f5ff0"/>
<text x="365.90" y="143.58" font-size="8.9" text-anchor="start" font-weight="normal" xml:space="preserve">R =   19 kΩ, PP=3</text>
<path d="M343 152.32H362.7" stroke="#80d8a8" stroke-width="0.9"/>
<path d="M353.20 155.05L356.03 150.27L350.37 150.27Z" fill="#00a850"/>
<text x="365.90" y="155.52" font-size="8.9" text-anchor="start" font-weight="normal" xml:space="preserve">R =   10 kΩ, PP=4</text>
<path d="M343 164.26H362.7" stroke="#e4a8f8" stroke-width="0.9"/>
<path d="M353.20 161.42L356.03 164.26L353.20 167.09L350.37 164.26Z" fill="#c050e8"/>
<text x="365.90" y="167.46" font-size="8.9" text-anchor="start" font-weight="normal" xml:space="preserve">R =  6.6 kΩ, PP=5</text>
<path d="M343 176.20H362.7" stroke="#eeb050" stroke-width="0.9"/>
<path d="M350.37 176.20L355.33 173.21L355.33 179.19Z" fill="#e69a12"/>
<text x="365.90" y="179.40" font-size="8.9" text-anchor="start" font-weight="normal" xml:space="preserve">R =  1.7 kΩ, PP=6</text>
</svg></body></html>
